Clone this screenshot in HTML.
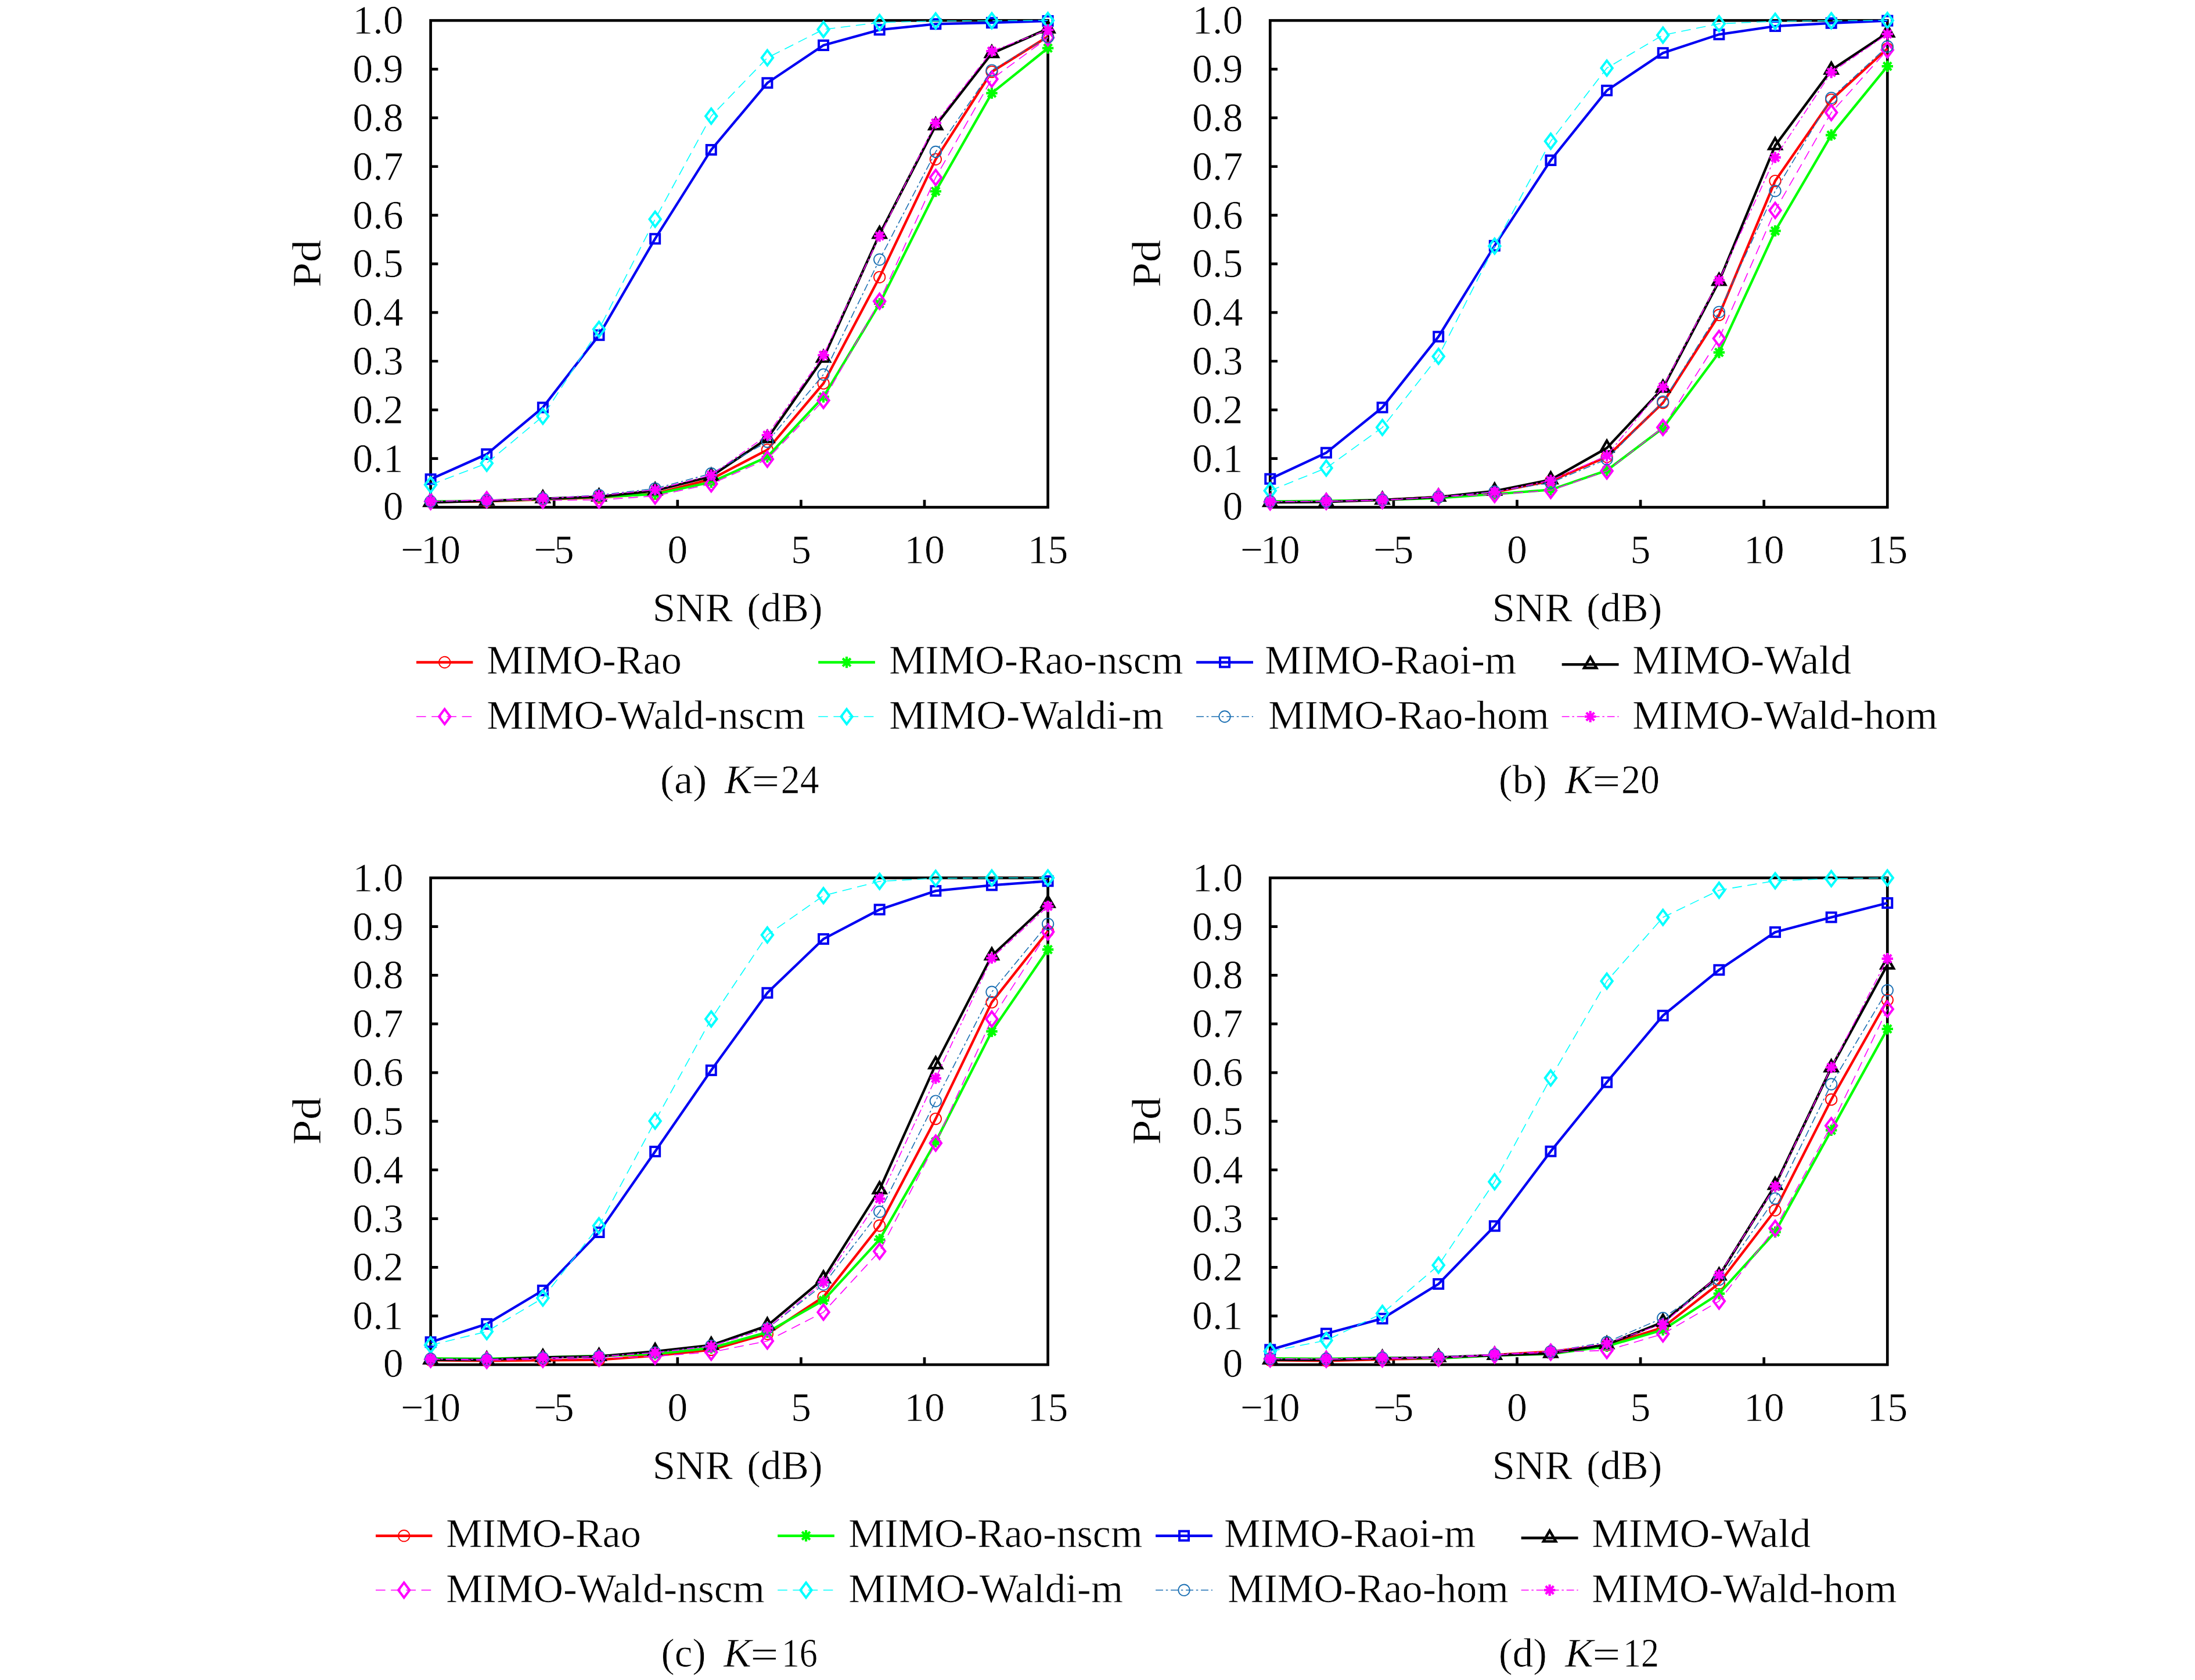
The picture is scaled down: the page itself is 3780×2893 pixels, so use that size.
<!DOCTYPE html>
<html><head><meta charset="utf-8"><title>Pd vs SNR</title>
<style>html,body{margin:0;padding:0;background:#fff}svg{display:block}text{font-family:"Liberation Serif",serif;fill:#000;stroke:#fff;stroke-width:0.7px}</style>
</head><body>
<svg width="3780" height="2893" viewBox="0 0 3780 2893" font-family="'Liberation Serif', serif" font-size="70">
<rect width="3780" height="2893" fill="#fff"/>
<g id="plot-a">
<rect x="741.6" y="35.25" width="1063" height="838.25" fill="none" stroke="#000" stroke-width="4.7"/>
<path d="M741.6 789.67h12.8M741.6 705.85h12.8M741.6 622.02h12.8M741.6 538.2h12.8M741.6 454.38h12.8M741.6 370.55h12.8M741.6 286.73h12.8M741.6 202.9h12.8M741.6 119.08h12.8M954.2 873.5v-12.8M1166.8 873.5v-12.8M1379.4 873.5v-12.8M1592 873.5v-12.8" stroke="#000" stroke-width="4.7" fill="none"/>
<text x="694.7" y="894.7" text-anchor="end">0</text>
<text x="694.7" y="812.67" text-anchor="end">0.1</text>
<text x="694.7" y="728.85" text-anchor="end">0.2</text>
<text x="694.7" y="645.02" text-anchor="end">0.3</text>
<text x="694.7" y="561.2" text-anchor="end">0.4</text>
<text x="694.7" y="477.38" text-anchor="end">0.5</text>
<text x="694.7" y="393.55" text-anchor="end">0.6</text>
<text x="694.7" y="309.73" text-anchor="end">0.7</text>
<text x="694.7" y="225.9" text-anchor="end">0.8</text>
<text x="694.7" y="142.08" text-anchor="end">0.9</text>
<text x="694.7" y="58.25" text-anchor="end">1.0</text>
<text x="690 724.75 758.15" y="970">−10</text>
<text x="919.2 953.8" y="970">−5</text>
<text x="1166.8" y="970" text-anchor="middle">0</text>
<text x="1379.4" y="970" text-anchor="middle">5</text>
<text x="1592" y="970" text-anchor="middle">10</text>
<text x="1804.6" y="970" text-anchor="middle">15</text>
<text x="1123.7" y="1070.2" textLength="138.3" lengthAdjust="spacingAndGlyphs">SNR</text>
<text x="1286.3" y="1070.2" textLength="130.5" lengthAdjust="spacingAndGlyphs">(dB)</text>
<text transform="translate(552.3 453.88) rotate(-90)" text-anchor="middle" textLength="82.5" lengthAdjust="spacingAndGlyphs">Pd</text>
<polyline points="741.6,864.28 838.24,863.44 934.87,860.09 1031.51,856.74 1128.15,850.03 1224.78,825.13 1321.42,774.59 1418.05,660.17 1514.69,477.34 1611.33,274.32 1707.96,123.6 1804.6,62.91" fill="none" stroke="#ff0000" stroke-width="4.3" stroke-linejoin="miter"/>
<circle cx="741.6" cy="864.28" r="9.7" fill="none" stroke="#ff0000" stroke-width="1.9"/><circle cx="838.24" cy="863.44" r="9.7" fill="none" stroke="#ff0000" stroke-width="1.9"/><circle cx="934.87" cy="860.09" r="9.7" fill="none" stroke="#ff0000" stroke-width="1.9"/><circle cx="1031.51" cy="856.74" r="9.7" fill="none" stroke="#ff0000" stroke-width="1.9"/><circle cx="1128.15" cy="850.03" r="9.7" fill="none" stroke="#ff0000" stroke-width="1.9"/><circle cx="1224.78" cy="825.13" r="9.7" fill="none" stroke="#ff0000" stroke-width="1.9"/><circle cx="1321.42" cy="774.59" r="9.7" fill="none" stroke="#ff0000" stroke-width="1.9"/><circle cx="1418.05" cy="660.17" r="9.7" fill="none" stroke="#ff0000" stroke-width="1.9"/><circle cx="1514.69" cy="477.34" r="9.7" fill="none" stroke="#ff0000" stroke-width="1.9"/><circle cx="1611.33" cy="274.32" r="9.7" fill="none" stroke="#ff0000" stroke-width="1.9"/><circle cx="1707.96" cy="123.6" r="9.7" fill="none" stroke="#ff0000" stroke-width="1.9"/><circle cx="1804.6" cy="62.91" r="9.7" fill="none" stroke="#ff0000" stroke-width="1.9"/>
<polyline points="741.6,863.44 838.24,862.6 934.87,859.25 1031.51,855.9 1128.15,850.87 1224.78,830.25 1321.42,786.74 1418.05,683.47 1514.69,522.86 1611.33,329.48 1707.96,160.32 1804.6,82.78" fill="none" stroke="#00ff00" stroke-width="4.3" stroke-linejoin="miter"/>
<path d="M731.9 863.44H751.3M741.6 853.74V873.14M734.74 856.58L748.46 870.3M734.74 870.3L748.46 856.58" fill="none" stroke="#00ff00" stroke-width="4.2"/><path d="M828.54 862.6H847.94M838.24 852.9V872.3M831.38 855.74L845.1 869.46M831.38 869.46L845.1 855.74" fill="none" stroke="#00ff00" stroke-width="4.2"/><path d="M925.17 859.25H944.57M934.87 849.55V868.95M928.01 852.39L941.73 866.11M928.01 866.11L941.73 852.39" fill="none" stroke="#00ff00" stroke-width="4.2"/><path d="M1021.81 855.9H1041.21M1031.51 846.2V865.6M1024.65 849.04L1038.37 862.76M1024.65 862.76L1038.37 849.04" fill="none" stroke="#00ff00" stroke-width="4.2"/><path d="M1118.45 850.87H1137.85M1128.15 841.17V860.57M1121.29 844.01L1135 857.73M1121.29 857.73L1135 844.01" fill="none" stroke="#00ff00" stroke-width="4.2"/><path d="M1215.08 830.25H1234.48M1224.78 820.55V839.95M1217.92 823.39L1231.64 837.11M1217.92 837.11L1231.64 823.39" fill="none" stroke="#00ff00" stroke-width="4.2"/><path d="M1311.72 786.74H1331.12M1321.42 777.04V796.44M1314.56 779.88L1328.28 793.6M1314.56 793.6L1328.28 779.88" fill="none" stroke="#00ff00" stroke-width="4.2"/><path d="M1408.35 683.47H1427.75M1418.05 673.77V693.17M1411.2 676.61L1424.91 690.33M1411.2 690.33L1424.91 676.61" fill="none" stroke="#00ff00" stroke-width="4.2"/><path d="M1504.99 522.86H1524.39M1514.69 513.16V532.56M1507.83 516L1521.55 529.72M1507.83 529.72L1521.55 516" fill="none" stroke="#00ff00" stroke-width="4.2"/><path d="M1601.63 329.48H1621.03M1611.33 319.78V339.18M1604.47 322.62L1618.19 336.33M1604.47 336.33L1618.19 322.62" fill="none" stroke="#00ff00" stroke-width="4.2"/><path d="M1698.26 160.32H1717.66M1707.96 150.62V170.02M1701.1 153.46L1714.82 167.18M1701.1 167.18L1714.82 153.46" fill="none" stroke="#00ff00" stroke-width="4.2"/><path d="M1794.9 82.78H1814.3M1804.6 73.08V92.48M1797.74 75.92L1811.46 89.64M1797.74 89.64L1811.46 75.92" fill="none" stroke="#00ff00" stroke-width="4.2"/>
<polyline points="741.6,825.22 838.24,782.05 934.87,701.66 1031.51,577.18 1128.15,411.21 1224.78,257.97 1321.42,142.8 1418.05,78 1514.69,51.34 1611.33,41.29 1707.96,39.19 1804.6,36.09" fill="none" stroke="#0000f2" stroke-width="4.3" stroke-linejoin="miter"/>
<rect x="733.6" y="817.22" width="16" height="16" fill="none" stroke="#0000f2" stroke-width="4"/><rect x="830.24" y="774.05" width="16" height="16" fill="none" stroke="#0000f2" stroke-width="4"/><rect x="926.87" y="693.66" width="16" height="16" fill="none" stroke="#0000f2" stroke-width="4"/><rect x="1023.51" y="569.18" width="16" height="16" fill="none" stroke="#0000f2" stroke-width="4"/><rect x="1120.15" y="403.21" width="16" height="16" fill="none" stroke="#0000f2" stroke-width="4"/><rect x="1216.78" y="249.97" width="16" height="16" fill="none" stroke="#0000f2" stroke-width="4"/><rect x="1313.42" y="134.8" width="16" height="16" fill="none" stroke="#0000f2" stroke-width="4"/><rect x="1410.05" y="70" width="16" height="16" fill="none" stroke="#0000f2" stroke-width="4"/><rect x="1506.69" y="43.34" width="16" height="16" fill="none" stroke="#0000f2" stroke-width="4"/><rect x="1603.33" y="33.29" width="16" height="16" fill="none" stroke="#0000f2" stroke-width="4"/><rect x="1699.96" y="31.19" width="16" height="16" fill="none" stroke="#0000f2" stroke-width="4"/><rect x="1796.6" y="28.09" width="16" height="16" fill="none" stroke="#0000f2" stroke-width="4"/>
<polyline points="741.6,865.12 838.24,862.6 934.87,858.58 1031.51,855.48 1128.15,845 1224.78,820.27 1321.42,755.14 1418.05,616.66 1514.69,403.41 1611.33,216.23 1707.96,92 1804.6,49.5" fill="none" stroke="#000000" stroke-width="4.3" stroke-linejoin="miter"/>
<path d="M741.6 852.52L752.3 871.12L730.9 871.12Z" fill="none" stroke="#000000" stroke-width="4.4" stroke-linejoin="miter"/><path d="M838.24 850L848.94 868.6L827.54 868.6Z" fill="none" stroke="#000000" stroke-width="4.4" stroke-linejoin="miter"/><path d="M934.87 845.98L945.57 864.58L924.17 864.58Z" fill="none" stroke="#000000" stroke-width="4.4" stroke-linejoin="miter"/><path d="M1031.51 842.88L1042.21 861.48L1020.81 861.48Z" fill="none" stroke="#000000" stroke-width="4.4" stroke-linejoin="miter"/><path d="M1128.15 832.4L1138.85 851L1117.45 851Z" fill="none" stroke="#000000" stroke-width="4.4" stroke-linejoin="miter"/><path d="M1224.78 807.67L1235.48 826.27L1214.08 826.27Z" fill="none" stroke="#000000" stroke-width="4.4" stroke-linejoin="miter"/><path d="M1321.42 742.54L1332.12 761.14L1310.72 761.14Z" fill="none" stroke="#000000" stroke-width="4.4" stroke-linejoin="miter"/><path d="M1418.05 604.06L1428.75 622.66L1407.35 622.66Z" fill="none" stroke="#000000" stroke-width="4.4" stroke-linejoin="miter"/><path d="M1514.69 390.81L1525.39 409.41L1503.99 409.41Z" fill="none" stroke="#000000" stroke-width="4.4" stroke-linejoin="miter"/><path d="M1611.33 203.63L1622.03 222.23L1600.63 222.23Z" fill="none" stroke="#000000" stroke-width="4.4" stroke-linejoin="miter"/><path d="M1707.96 79.4L1718.66 98L1697.26 98Z" fill="none" stroke="#000000" stroke-width="4.4" stroke-linejoin="miter"/><path d="M1804.6 36.9L1815.3 55.5L1793.9 55.5Z" fill="none" stroke="#000000" stroke-width="4.4" stroke-linejoin="miter"/>
<polyline points="741.6,863.44 838.24,860.59 934.87,861.26 1031.51,860.93 1128.15,854.14 1224.78,833.26 1321.42,790.76 1418.05,689.5 1514.69,518.84 1611.33,305.67 1707.96,136.18 1804.6,65.01" fill="none" stroke="#ff00ff" stroke-width="1.6" stroke-dasharray="16.6 9.6" stroke-linejoin="miter"/>
<path d="M741.6 850.54L751.3 863.44L741.6 876.34L731.9 863.44Z" fill="none" stroke="#ff00ff" stroke-width="4" stroke-linejoin="miter"/><path d="M838.24 847.69L847.94 860.59L838.24 873.49L828.54 860.59Z" fill="none" stroke="#ff00ff" stroke-width="4" stroke-linejoin="miter"/><path d="M934.87 848.36L944.57 861.26L934.87 874.16L925.17 861.26Z" fill="none" stroke="#ff00ff" stroke-width="4" stroke-linejoin="miter"/><path d="M1031.51 848.03L1041.21 860.93L1031.51 873.83L1021.81 860.93Z" fill="none" stroke="#ff00ff" stroke-width="4" stroke-linejoin="miter"/><path d="M1128.15 841.24L1137.85 854.14L1128.15 867.04L1118.45 854.14Z" fill="none" stroke="#ff00ff" stroke-width="4" stroke-linejoin="miter"/><path d="M1224.78 820.36L1234.48 833.26L1224.78 846.16L1215.08 833.26Z" fill="none" stroke="#ff00ff" stroke-width="4" stroke-linejoin="miter"/><path d="M1321.42 777.86L1331.12 790.76L1321.42 803.66L1311.72 790.76Z" fill="none" stroke="#ff00ff" stroke-width="4" stroke-linejoin="miter"/><path d="M1418.05 676.6L1427.75 689.5L1418.05 702.4L1408.35 689.5Z" fill="none" stroke="#ff00ff" stroke-width="4" stroke-linejoin="miter"/><path d="M1514.69 505.94L1524.39 518.84L1514.69 531.74L1504.99 518.84Z" fill="none" stroke="#ff00ff" stroke-width="4" stroke-linejoin="miter"/><path d="M1611.33 292.77L1621.03 305.67L1611.33 318.57L1601.63 305.67Z" fill="none" stroke="#ff00ff" stroke-width="4" stroke-linejoin="miter"/><path d="M1707.96 123.28L1717.66 136.18L1707.96 149.08L1698.26 136.18Z" fill="none" stroke="#ff00ff" stroke-width="4" stroke-linejoin="miter"/><path d="M1804.6 52.11L1814.3 65.01L1804.6 77.91L1794.9 65.01Z" fill="none" stroke="#ff00ff" stroke-width="4" stroke-linejoin="miter"/>
<polyline points="741.6,834.86 838.24,797.81 934.87,716.83 1031.51,567.12 1128.15,377.42 1224.78,199.97 1321.42,99.54 1418.05,50.67 1514.69,38.77 1611.33,36.09 1707.96,35.67 1804.6,35.25" fill="none" stroke="#00ffff" stroke-width="1.6" stroke-dasharray="16.6 9.6" stroke-linejoin="miter"/>
<path d="M741.6 821.96L751.3 834.86L741.6 847.76L731.9 834.86Z" fill="none" stroke="#00ffff" stroke-width="4" stroke-linejoin="miter"/><path d="M838.24 784.91L847.94 797.81L838.24 810.71L828.54 797.81Z" fill="none" stroke="#00ffff" stroke-width="4" stroke-linejoin="miter"/><path d="M934.87 703.93L944.57 716.83L934.87 729.73L925.17 716.83Z" fill="none" stroke="#00ffff" stroke-width="4" stroke-linejoin="miter"/><path d="M1031.51 554.22L1041.21 567.12L1031.51 580.02L1021.81 567.12Z" fill="none" stroke="#00ffff" stroke-width="4" stroke-linejoin="miter"/><path d="M1128.15 364.52L1137.85 377.42L1128.15 390.32L1118.45 377.42Z" fill="none" stroke="#00ffff" stroke-width="4" stroke-linejoin="miter"/><path d="M1224.78 187.07L1234.48 199.97L1224.78 212.87L1215.08 199.97Z" fill="none" stroke="#00ffff" stroke-width="4" stroke-linejoin="miter"/><path d="M1321.42 86.64L1331.12 99.54L1321.42 112.44L1311.72 99.54Z" fill="none" stroke="#00ffff" stroke-width="4" stroke-linejoin="miter"/><path d="M1418.05 37.77L1427.75 50.67L1418.05 63.57L1408.35 50.67Z" fill="none" stroke="#00ffff" stroke-width="4" stroke-linejoin="miter"/><path d="M1514.69 25.87L1524.39 38.77L1514.69 51.67L1504.99 38.77Z" fill="none" stroke="#00ffff" stroke-width="4" stroke-linejoin="miter"/><path d="M1611.33 23.19L1621.03 36.09L1611.33 48.99L1601.63 36.09Z" fill="none" stroke="#00ffff" stroke-width="4" stroke-linejoin="miter"/><path d="M1707.96 22.77L1717.66 35.67L1707.96 48.57L1698.26 35.67Z" fill="none" stroke="#00ffff" stroke-width="4" stroke-linejoin="miter"/><path d="M1804.6 22.35L1814.3 35.25L1804.6 48.15L1794.9 35.25Z" fill="none" stroke="#00ffff" stroke-width="4" stroke-linejoin="miter"/>
<polyline points="741.6,863.44 838.24,861.76 934.87,858.41 1031.51,852.54 1128.15,841.31 1224.78,815.41 1321.42,760.76 1418.05,644.99 1514.69,447 1611.33,261.41 1707.96,121.09 1804.6,63.92" fill="none" stroke="#1a6fb3" stroke-width="1.6" stroke-dasharray="12.9 4.8 3.5 4.8" stroke-linejoin="miter"/>
<circle cx="741.6" cy="863.44" r="9.7" fill="none" stroke="#1a6fb3" stroke-width="1.9"/><circle cx="838.24" cy="861.76" r="9.7" fill="none" stroke="#1a6fb3" stroke-width="1.9"/><circle cx="934.87" cy="858.41" r="9.7" fill="none" stroke="#1a6fb3" stroke-width="1.9"/><circle cx="1031.51" cy="852.54" r="9.7" fill="none" stroke="#1a6fb3" stroke-width="1.9"/><circle cx="1128.15" cy="841.31" r="9.7" fill="none" stroke="#1a6fb3" stroke-width="1.9"/><circle cx="1224.78" cy="815.41" r="9.7" fill="none" stroke="#1a6fb3" stroke-width="1.9"/><circle cx="1321.42" cy="760.76" r="9.7" fill="none" stroke="#1a6fb3" stroke-width="1.9"/><circle cx="1418.05" cy="644.99" r="9.7" fill="none" stroke="#1a6fb3" stroke-width="1.9"/><circle cx="1514.69" cy="447" r="9.7" fill="none" stroke="#1a6fb3" stroke-width="1.9"/><circle cx="1611.33" cy="261.41" r="9.7" fill="none" stroke="#1a6fb3" stroke-width="1.9"/><circle cx="1707.96" cy="121.09" r="9.7" fill="none" stroke="#1a6fb3" stroke-width="1.9"/><circle cx="1804.6" cy="63.92" r="9.7" fill="none" stroke="#1a6fb3" stroke-width="1.9"/>
<polyline points="741.6,863.02 838.24,861.6 934.87,858.5 1031.51,853.47 1128.15,843.41 1224.78,818.09 1321.42,749.27 1418.05,611.63 1514.69,406.51 1611.33,211.87 1707.96,88.06 1804.6,51.34" fill="none" stroke="#ff00ff" stroke-width="1.6" stroke-dasharray="12.9 4.8 3.5 4.8" stroke-linejoin="miter"/>
<path d="M731.9 863.02H751.3M741.6 853.32V872.72M734.74 856.16L748.46 869.88M734.74 869.88L748.46 856.16" fill="none" stroke="#ff00ff" stroke-width="4.2"/><path d="M828.54 861.6H847.94M838.24 851.9V871.3M831.38 854.74L845.1 868.46M831.38 868.46L845.1 854.74" fill="none" stroke="#ff00ff" stroke-width="4.2"/><path d="M925.17 858.5H944.57M934.87 848.8V868.2M928.01 851.64L941.73 865.35M928.01 865.35L941.73 851.64" fill="none" stroke="#ff00ff" stroke-width="4.2"/><path d="M1021.81 853.47H1041.21M1031.51 843.77V863.17M1024.65 846.61L1038.37 860.32M1024.65 860.32L1038.37 846.61" fill="none" stroke="#ff00ff" stroke-width="4.2"/><path d="M1118.45 843.41H1137.85M1128.15 833.71V853.11M1121.29 836.55L1135 850.27M1121.29 850.27L1135 836.55" fill="none" stroke="#ff00ff" stroke-width="4.2"/><path d="M1215.08 818.09H1234.48M1224.78 808.39V827.79M1217.92 811.23L1231.64 824.95M1217.92 824.95L1231.64 811.23" fill="none" stroke="#ff00ff" stroke-width="4.2"/><path d="M1311.72 749.27H1331.12M1321.42 739.57V758.97M1314.56 742.41L1328.28 756.13M1314.56 756.13L1328.28 742.41" fill="none" stroke="#ff00ff" stroke-width="4.2"/><path d="M1408.35 611.63H1427.75M1418.05 601.93V621.33M1411.2 604.77L1424.91 618.49M1411.2 618.49L1424.91 604.77" fill="none" stroke="#ff00ff" stroke-width="4.2"/><path d="M1504.99 406.51H1524.39M1514.69 396.81V416.21M1507.83 399.65L1521.55 413.37M1507.83 413.37L1521.55 399.65" fill="none" stroke="#ff00ff" stroke-width="4.2"/><path d="M1601.63 211.87H1621.03M1611.33 202.17V221.57M1604.47 205.01L1618.19 218.73M1604.47 218.73L1618.19 205.01" fill="none" stroke="#ff00ff" stroke-width="4.2"/><path d="M1698.26 88.06H1717.66M1707.96 78.36V97.76M1701.1 81.2L1714.82 94.92M1701.1 94.92L1714.82 81.2" fill="none" stroke="#ff00ff" stroke-width="4.2"/><path d="M1794.9 51.34H1814.3M1804.6 41.64V61.04M1797.74 44.49L1811.46 58.2M1797.74 58.2L1811.46 44.49" fill="none" stroke="#ff00ff" stroke-width="4.2"/>
</g>
<g id="plot-b">
<rect x="2187.3" y="35.25" width="1063" height="838.25" fill="none" stroke="#000" stroke-width="4.7"/>
<path d="M2187.3 789.67h12.8M2187.3 705.85h12.8M2187.3 622.02h12.8M2187.3 538.2h12.8M2187.3 454.38h12.8M2187.3 370.55h12.8M2187.3 286.73h12.8M2187.3 202.9h12.8M2187.3 119.08h12.8M2399.9 873.5v-12.8M2612.5 873.5v-12.8M2825.1 873.5v-12.8M3037.7 873.5v-12.8" stroke="#000" stroke-width="4.7" fill="none"/>
<text x="2140.4" y="894.7" text-anchor="end">0</text>
<text x="2140.4" y="812.67" text-anchor="end">0.1</text>
<text x="2140.4" y="728.85" text-anchor="end">0.2</text>
<text x="2140.4" y="645.02" text-anchor="end">0.3</text>
<text x="2140.4" y="561.2" text-anchor="end">0.4</text>
<text x="2140.4" y="477.38" text-anchor="end">0.5</text>
<text x="2140.4" y="393.55" text-anchor="end">0.6</text>
<text x="2140.4" y="309.73" text-anchor="end">0.7</text>
<text x="2140.4" y="225.9" text-anchor="end">0.8</text>
<text x="2140.4" y="142.08" text-anchor="end">0.9</text>
<text x="2140.4" y="58.25" text-anchor="end">1.0</text>
<text x="2135.7 2170.45 2203.85" y="970">−10</text>
<text x="2364.9 2399.5" y="970">−5</text>
<text x="2612.5" y="970" text-anchor="middle">0</text>
<text x="2825.1" y="970" text-anchor="middle">5</text>
<text x="3037.7" y="970" text-anchor="middle">10</text>
<text x="3250.3" y="970" text-anchor="middle">15</text>
<text x="2569.4" y="1070.2" textLength="138.3" lengthAdjust="spacingAndGlyphs">SNR</text>
<text x="2732" y="1070.2" textLength="130.5" lengthAdjust="spacingAndGlyphs">(dB)</text>
<text transform="translate(1998 453.88) rotate(-90)" text-anchor="middle" textLength="82.5" lengthAdjust="spacingAndGlyphs">Pd</text>
<polyline points="2187.3,864.28 2283.94,863.44 2380.57,860.93 2477.21,855.9 2573.85,847.51 2670.48,828.23 2767.12,786.74 2863.75,693.61 2960.39,542.39 3057.03,311.62 3153.66,171.8 3250.3,83.78" fill="none" stroke="#ff0000" stroke-width="4.3" stroke-linejoin="miter"/>
<circle cx="2187.3" cy="864.28" r="9.7" fill="none" stroke="#ff0000" stroke-width="1.9"/><circle cx="2283.94" cy="863.44" r="9.7" fill="none" stroke="#ff0000" stroke-width="1.9"/><circle cx="2380.57" cy="860.93" r="9.7" fill="none" stroke="#ff0000" stroke-width="1.9"/><circle cx="2477.21" cy="855.9" r="9.7" fill="none" stroke="#ff0000" stroke-width="1.9"/><circle cx="2573.85" cy="847.51" r="9.7" fill="none" stroke="#ff0000" stroke-width="1.9"/><circle cx="2670.48" cy="828.23" r="9.7" fill="none" stroke="#ff0000" stroke-width="1.9"/><circle cx="2767.12" cy="786.74" r="9.7" fill="none" stroke="#ff0000" stroke-width="1.9"/><circle cx="2863.75" cy="693.61" r="9.7" fill="none" stroke="#ff0000" stroke-width="1.9"/><circle cx="2960.39" cy="542.39" r="9.7" fill="none" stroke="#ff0000" stroke-width="1.9"/><circle cx="3057.03" cy="311.62" r="9.7" fill="none" stroke="#ff0000" stroke-width="1.9"/><circle cx="3153.66" cy="171.8" r="9.7" fill="none" stroke="#ff0000" stroke-width="1.9"/><circle cx="3250.3" cy="83.78" r="9.7" fill="none" stroke="#ff0000" stroke-width="1.9"/>
<polyline points="2187.3,863.44 2283.94,862.6 2380.57,860.93 2477.21,857.57 2573.85,850.87 2670.48,843.41 2767.12,809.96 2863.75,737.12 2960.39,606.94 3057.03,397.63 3153.66,232.57 3250.3,114.21" fill="none" stroke="#00ff00" stroke-width="4.3" stroke-linejoin="miter"/>
<path d="M2177.6 863.44H2197M2187.3 853.74V873.14M2180.44 856.58L2194.16 870.3M2180.44 870.3L2194.16 856.58" fill="none" stroke="#00ff00" stroke-width="4.2"/><path d="M2274.24 862.6H2293.64M2283.94 852.9V872.3M2277.08 855.74L2290.8 869.46M2277.08 869.46L2290.8 855.74" fill="none" stroke="#00ff00" stroke-width="4.2"/><path d="M2370.87 860.93H2390.27M2380.57 851.23V870.63M2373.71 854.07L2387.43 867.79M2373.71 867.79L2387.43 854.07" fill="none" stroke="#00ff00" stroke-width="4.2"/><path d="M2467.51 857.57H2486.91M2477.21 847.87V867.27M2470.35 850.71L2484.07 864.43M2470.35 864.43L2484.07 850.71" fill="none" stroke="#00ff00" stroke-width="4.2"/><path d="M2564.15 850.87H2583.55M2573.85 841.17V860.57M2566.99 844.01L2580.7 857.73M2566.99 857.73L2580.7 844.01" fill="none" stroke="#00ff00" stroke-width="4.2"/><path d="M2660.78 843.41H2680.18M2670.48 833.71V853.11M2663.62 836.55L2677.34 850.27M2663.62 850.27L2677.34 836.55" fill="none" stroke="#00ff00" stroke-width="4.2"/><path d="M2757.42 809.96H2776.82M2767.12 800.26V819.66M2760.26 803.1L2773.98 816.82M2760.26 816.82L2773.98 803.1" fill="none" stroke="#00ff00" stroke-width="4.2"/><path d="M2854.05 737.12H2873.45M2863.75 727.42V746.82M2856.9 730.26L2870.61 743.98M2856.9 743.98L2870.61 730.26" fill="none" stroke="#00ff00" stroke-width="4.2"/><path d="M2950.69 606.94H2970.09M2960.39 597.24V616.64M2953.53 600.08L2967.25 613.8M2953.53 613.8L2967.25 600.08" fill="none" stroke="#00ff00" stroke-width="4.2"/><path d="M3047.33 397.63H3066.73M3057.03 387.93V407.33M3050.17 390.77L3063.89 404.48M3050.17 404.48L3063.89 390.77" fill="none" stroke="#00ff00" stroke-width="4.2"/><path d="M3143.96 232.57H3163.36M3153.66 222.87V242.27M3146.8 225.72L3160.52 239.43M3146.8 239.43L3160.52 225.72" fill="none" stroke="#00ff00" stroke-width="4.2"/><path d="M3240.6 114.21H3260M3250.3 104.51V123.91M3243.44 107.35L3257.16 121.07M3243.44 121.07L3257.16 107.35" fill="none" stroke="#00ff00" stroke-width="4.2"/>
<polyline points="2187.3,824.71 2283.94,779.62 2380.57,701.66 2477.21,579.69 2573.85,423.19 2670.48,276 2767.12,155.79 2863.75,91.16 2960.39,59.31 3057.03,45.06 3153.66,39.78 3250.3,35.67" fill="none" stroke="#0000f2" stroke-width="4.3" stroke-linejoin="miter"/>
<rect x="2179.3" y="816.71" width="16" height="16" fill="none" stroke="#0000f2" stroke-width="4"/><rect x="2275.94" y="771.62" width="16" height="16" fill="none" stroke="#0000f2" stroke-width="4"/><rect x="2372.57" y="693.66" width="16" height="16" fill="none" stroke="#0000f2" stroke-width="4"/><rect x="2469.21" y="571.69" width="16" height="16" fill="none" stroke="#0000f2" stroke-width="4"/><rect x="2565.85" y="415.19" width="16" height="16" fill="none" stroke="#0000f2" stroke-width="4"/><rect x="2662.48" y="268" width="16" height="16" fill="none" stroke="#0000f2" stroke-width="4"/><rect x="2759.12" y="147.79" width="16" height="16" fill="none" stroke="#0000f2" stroke-width="4"/><rect x="2855.75" y="83.16" width="16" height="16" fill="none" stroke="#0000f2" stroke-width="4"/><rect x="2952.39" y="51.31" width="16" height="16" fill="none" stroke="#0000f2" stroke-width="4"/><rect x="3049.03" y="37.06" width="16" height="16" fill="none" stroke="#0000f2" stroke-width="4"/><rect x="3145.66" y="31.78" width="16" height="16" fill="none" stroke="#0000f2" stroke-width="4"/><rect x="3242.3" y="27.67" width="16" height="16" fill="none" stroke="#0000f2" stroke-width="4"/>
<polyline points="2187.3,865.12 2283.94,864.28 2380.57,860.93 2477.21,855.9 2573.85,845.59 2670.48,826.14 2767.12,771.48 2863.75,668.3 2960.39,484.3 3057.03,250.6 3153.66,120.67 3250.3,56.54" fill="none" stroke="#000000" stroke-width="4.3" stroke-linejoin="miter"/>
<path d="M2187.3 852.52L2198 871.12L2176.6 871.12Z" fill="none" stroke="#000000" stroke-width="4.4" stroke-linejoin="miter"/><path d="M2283.94 851.68L2294.64 870.28L2273.24 870.28Z" fill="none" stroke="#000000" stroke-width="4.4" stroke-linejoin="miter"/><path d="M2380.57 848.33L2391.27 866.93L2369.87 866.93Z" fill="none" stroke="#000000" stroke-width="4.4" stroke-linejoin="miter"/><path d="M2477.21 843.3L2487.91 861.9L2466.51 861.9Z" fill="none" stroke="#000000" stroke-width="4.4" stroke-linejoin="miter"/><path d="M2573.85 832.99L2584.55 851.59L2563.15 851.59Z" fill="none" stroke="#000000" stroke-width="4.4" stroke-linejoin="miter"/><path d="M2670.48 813.54L2681.18 832.14L2659.78 832.14Z" fill="none" stroke="#000000" stroke-width="4.4" stroke-linejoin="miter"/><path d="M2767.12 758.88L2777.82 777.48L2756.42 777.48Z" fill="none" stroke="#000000" stroke-width="4.4" stroke-linejoin="miter"/><path d="M2863.75 655.7L2874.45 674.3L2853.05 674.3Z" fill="none" stroke="#000000" stroke-width="4.4" stroke-linejoin="miter"/><path d="M2960.39 471.7L2971.09 490.3L2949.69 490.3Z" fill="none" stroke="#000000" stroke-width="4.4" stroke-linejoin="miter"/><path d="M3057.03 238L3067.73 256.6L3046.33 256.6Z" fill="none" stroke="#000000" stroke-width="4.4" stroke-linejoin="miter"/><path d="M3153.66 108.07L3164.36 126.67L3142.96 126.67Z" fill="none" stroke="#000000" stroke-width="4.4" stroke-linejoin="miter"/><path d="M3250.3 43.94L3261 62.54L3239.6 62.54Z" fill="none" stroke="#000000" stroke-width="4.4" stroke-linejoin="miter"/>
<polyline points="2187.3,864.28 2283.94,863.44 2380.57,861.76 2477.21,855.56 2573.85,851.45 2670.48,844.41 2767.12,810.97 2863.75,736.11 2960.39,582.79 3057.03,362.25 3153.66,193.85 3250.3,85.88" fill="none" stroke="#ff00ff" stroke-width="1.6" stroke-dasharray="16.6 9.6" stroke-linejoin="miter"/>
<path d="M2187.3 851.38L2197 864.28L2187.3 877.18L2177.6 864.28Z" fill="none" stroke="#ff00ff" stroke-width="4" stroke-linejoin="miter"/><path d="M2283.94 850.54L2293.64 863.44L2283.94 876.34L2274.24 863.44Z" fill="none" stroke="#ff00ff" stroke-width="4" stroke-linejoin="miter"/><path d="M2380.57 848.86L2390.27 861.76L2380.57 874.66L2370.87 861.76Z" fill="none" stroke="#ff00ff" stroke-width="4" stroke-linejoin="miter"/><path d="M2477.21 842.66L2486.91 855.56L2477.21 868.46L2467.51 855.56Z" fill="none" stroke="#ff00ff" stroke-width="4" stroke-linejoin="miter"/><path d="M2573.85 838.55L2583.55 851.45L2573.85 864.35L2564.15 851.45Z" fill="none" stroke="#ff00ff" stroke-width="4" stroke-linejoin="miter"/><path d="M2670.48 831.51L2680.18 844.41L2670.48 857.31L2660.78 844.41Z" fill="none" stroke="#ff00ff" stroke-width="4" stroke-linejoin="miter"/><path d="M2767.12 798.07L2776.82 810.97L2767.12 823.87L2757.42 810.97Z" fill="none" stroke="#ff00ff" stroke-width="4" stroke-linejoin="miter"/><path d="M2863.75 723.21L2873.45 736.11L2863.75 749.01L2854.05 736.11Z" fill="none" stroke="#ff00ff" stroke-width="4" stroke-linejoin="miter"/><path d="M2960.39 569.89L2970.09 582.79L2960.39 595.69L2950.69 582.79Z" fill="none" stroke="#ff00ff" stroke-width="4" stroke-linejoin="miter"/><path d="M3057.03 349.35L3066.73 362.25L3057.03 375.15L3047.33 362.25Z" fill="none" stroke="#ff00ff" stroke-width="4" stroke-linejoin="miter"/><path d="M3153.66 180.95L3163.36 193.85L3153.66 206.75L3143.96 193.85Z" fill="none" stroke="#ff00ff" stroke-width="4" stroke-linejoin="miter"/><path d="M3250.3 72.98L3260 85.88L3250.3 98.78L3240.6 85.88Z" fill="none" stroke="#ff00ff" stroke-width="4" stroke-linejoin="miter"/>
<polyline points="2187.3,845 2283.94,805.94 2380.57,736.11 2477.21,613.64 2573.85,423.86 2670.48,243.22 2767.12,117.23 2863.75,60.4 2960.39,40.87 3057.03,36.68 3153.66,35.67 3250.3,35.25" fill="none" stroke="#00ffff" stroke-width="1.6" stroke-dasharray="16.6 9.6" stroke-linejoin="miter"/>
<path d="M2187.3 832.1L2197 845L2187.3 857.9L2177.6 845Z" fill="none" stroke="#00ffff" stroke-width="4" stroke-linejoin="miter"/><path d="M2283.94 793.04L2293.64 805.94L2283.94 818.84L2274.24 805.94Z" fill="none" stroke="#00ffff" stroke-width="4" stroke-linejoin="miter"/><path d="M2380.57 723.21L2390.27 736.11L2380.57 749.01L2370.87 736.11Z" fill="none" stroke="#00ffff" stroke-width="4" stroke-linejoin="miter"/><path d="M2477.21 600.74L2486.91 613.64L2477.21 626.54L2467.51 613.64Z" fill="none" stroke="#00ffff" stroke-width="4" stroke-linejoin="miter"/><path d="M2573.85 410.96L2583.55 423.86L2573.85 436.76L2564.15 423.86Z" fill="none" stroke="#00ffff" stroke-width="4" stroke-linejoin="miter"/><path d="M2670.48 230.32L2680.18 243.22L2670.48 256.12L2660.78 243.22Z" fill="none" stroke="#00ffff" stroke-width="4" stroke-linejoin="miter"/><path d="M2767.12 104.33L2776.82 117.23L2767.12 130.13L2757.42 117.23Z" fill="none" stroke="#00ffff" stroke-width="4" stroke-linejoin="miter"/><path d="M2863.75 47.5L2873.45 60.4L2863.75 73.3L2854.05 60.4Z" fill="none" stroke="#00ffff" stroke-width="4" stroke-linejoin="miter"/><path d="M2960.39 27.97L2970.09 40.87L2960.39 53.77L2950.69 40.87Z" fill="none" stroke="#00ffff" stroke-width="4" stroke-linejoin="miter"/><path d="M3057.03 23.78L3066.73 36.68L3057.03 49.58L3047.33 36.68Z" fill="none" stroke="#00ffff" stroke-width="4" stroke-linejoin="miter"/><path d="M3153.66 22.77L3163.36 35.67L3153.66 48.57L3143.96 35.67Z" fill="none" stroke="#00ffff" stroke-width="4" stroke-linejoin="miter"/><path d="M3250.3 22.35L3260 35.25L3250.3 48.15L3240.6 35.25Z" fill="none" stroke="#00ffff" stroke-width="4" stroke-linejoin="miter"/>
<polyline points="2187.3,863.44 2283.94,863.44 2380.57,860.93 2477.21,855.9 2573.85,846.68 2670.48,831.25 2767.12,790.76 2863.75,691.6 2960.39,537.28 3057.03,328.81 3153.66,168.7 3250.3,80.01" fill="none" stroke="#1a6fb3" stroke-width="1.6" stroke-dasharray="12.9 4.8 3.5 4.8" stroke-linejoin="miter"/>
<circle cx="2187.3" cy="863.44" r="9.7" fill="none" stroke="#1a6fb3" stroke-width="1.9"/><circle cx="2283.94" cy="863.44" r="9.7" fill="none" stroke="#1a6fb3" stroke-width="1.9"/><circle cx="2380.57" cy="860.93" r="9.7" fill="none" stroke="#1a6fb3" stroke-width="1.9"/><circle cx="2477.21" cy="855.9" r="9.7" fill="none" stroke="#1a6fb3" stroke-width="1.9"/><circle cx="2573.85" cy="846.68" r="9.7" fill="none" stroke="#1a6fb3" stroke-width="1.9"/><circle cx="2670.48" cy="831.25" r="9.7" fill="none" stroke="#1a6fb3" stroke-width="1.9"/><circle cx="2767.12" cy="790.76" r="9.7" fill="none" stroke="#1a6fb3" stroke-width="1.9"/><circle cx="2863.75" cy="691.6" r="9.7" fill="none" stroke="#1a6fb3" stroke-width="1.9"/><circle cx="2960.39" cy="537.28" r="9.7" fill="none" stroke="#1a6fb3" stroke-width="1.9"/><circle cx="3057.03" cy="328.81" r="9.7" fill="none" stroke="#1a6fb3" stroke-width="1.9"/><circle cx="3153.66" cy="168.7" r="9.7" fill="none" stroke="#1a6fb3" stroke-width="1.9"/><circle cx="3250.3" cy="80.01" r="9.7" fill="none" stroke="#1a6fb3" stroke-width="1.9"/>
<polyline points="2187.3,863.61 2283.94,863.02 2380.57,861.18 2477.21,855.9 2573.85,847.43 2670.48,827.23 2767.12,784.65 2863.75,666.28 2960.39,482.62 3057.03,271.13 3153.66,124.69 3250.3,58.72" fill="none" stroke="#ff00ff" stroke-width="1.6" stroke-dasharray="12.9 4.8 3.5 4.8" stroke-linejoin="miter"/>
<path d="M2177.6 863.61H2197M2187.3 853.91V873.31M2180.44 856.75L2194.16 870.47M2180.44 870.47L2194.16 856.75" fill="none" stroke="#ff00ff" stroke-width="4.2"/><path d="M2274.24 863.02H2293.64M2283.94 853.32V872.72M2277.08 856.16L2290.8 869.88M2277.08 869.88L2290.8 856.16" fill="none" stroke="#ff00ff" stroke-width="4.2"/><path d="M2370.87 861.18H2390.27M2380.57 851.48V870.88M2373.71 854.32L2387.43 868.04M2373.71 868.04L2387.43 854.32" fill="none" stroke="#ff00ff" stroke-width="4.2"/><path d="M2467.51 855.9H2486.91M2477.21 846.2V865.6M2470.35 849.04L2484.07 862.76M2470.35 862.76L2484.07 849.04" fill="none" stroke="#ff00ff" stroke-width="4.2"/><path d="M2564.15 847.43H2583.55M2573.85 837.73V857.13M2566.99 840.57L2580.7 854.29M2566.99 854.29L2580.7 840.57" fill="none" stroke="#ff00ff" stroke-width="4.2"/><path d="M2660.78 827.23H2680.18M2670.48 817.53V836.93M2663.62 820.37L2677.34 834.09M2663.62 834.09L2677.34 820.37" fill="none" stroke="#ff00ff" stroke-width="4.2"/><path d="M2757.42 784.65H2776.82M2767.12 774.95V794.35M2760.26 777.79L2773.98 791.5M2760.26 791.5L2773.98 777.79" fill="none" stroke="#ff00ff" stroke-width="4.2"/><path d="M2854.05 666.28H2873.45M2863.75 656.58V675.98M2856.9 659.43L2870.61 673.14M2856.9 673.14L2870.61 659.43" fill="none" stroke="#ff00ff" stroke-width="4.2"/><path d="M2950.69 482.62H2970.09M2960.39 472.92V492.32M2953.53 475.77L2967.25 489.48M2953.53 489.48L2967.25 475.77" fill="none" stroke="#ff00ff" stroke-width="4.2"/><path d="M3047.33 271.13H3066.73M3057.03 261.43V280.83M3050.17 264.27L3063.89 277.99M3050.17 277.99L3063.89 264.27" fill="none" stroke="#ff00ff" stroke-width="4.2"/><path d="M3143.96 124.69H3163.36M3153.66 114.99V134.39M3146.8 117.83L3160.52 131.55M3146.8 131.55L3160.52 117.83" fill="none" stroke="#ff00ff" stroke-width="4.2"/><path d="M3240.6 58.72H3260M3250.3 49.02V68.42M3243.44 51.86L3257.16 65.58M3243.44 65.58L3257.16 51.86" fill="none" stroke="#ff00ff" stroke-width="4.2"/>
</g>
<g id="plot-c">
<rect x="741.6" y="1511.75" width="1063" height="838.25" fill="none" stroke="#000" stroke-width="4.7"/>
<path d="M741.6 2266.18h12.8M741.6 2182.35h12.8M741.6 2098.53h12.8M741.6 2014.7h12.8M741.6 1930.88h12.8M741.6 1847.05h12.8M741.6 1763.22h12.8M741.6 1679.4h12.8M741.6 1595.58h12.8M954.2 2350v-12.8M1166.8 2350v-12.8M1379.4 2350v-12.8M1592 2350v-12.8" stroke="#000" stroke-width="4.7" fill="none"/>
<text x="694.7" y="2371.2" text-anchor="end">0</text>
<text x="694.7" y="2289.18" text-anchor="end">0.1</text>
<text x="694.7" y="2205.35" text-anchor="end">0.2</text>
<text x="694.7" y="2121.53" text-anchor="end">0.3</text>
<text x="694.7" y="2037.7" text-anchor="end">0.4</text>
<text x="694.7" y="1953.88" text-anchor="end">0.5</text>
<text x="694.7" y="1870.05" text-anchor="end">0.6</text>
<text x="694.7" y="1786.22" text-anchor="end">0.7</text>
<text x="694.7" y="1702.4" text-anchor="end">0.8</text>
<text x="694.7" y="1618.58" text-anchor="end">0.9</text>
<text x="694.7" y="1534.75" text-anchor="end">1.0</text>
<text x="690 724.75 758.15" y="2446.5">−10</text>
<text x="919.2 953.8" y="2446.5">−5</text>
<text x="1166.8" y="2446.5" text-anchor="middle">0</text>
<text x="1379.4" y="2446.5" text-anchor="middle">5</text>
<text x="1592" y="2446.5" text-anchor="middle">10</text>
<text x="1804.6" y="2446.5" text-anchor="middle">15</text>
<text x="1123.7" y="2546.7" textLength="138.3" lengthAdjust="spacingAndGlyphs">SNR</text>
<text x="1286.3" y="2546.7" textLength="130.5" lengthAdjust="spacingAndGlyphs">(dB)</text>
<text transform="translate(552.3 1930.38) rotate(-90)" text-anchor="middle" textLength="82.5" lengthAdjust="spacingAndGlyphs">Pd</text>
<polyline points="741.6,2342.46 838.24,2343.29 934.87,2342.46 1031.51,2341.62 1128.15,2334.49 1224.78,2324.35 1321.42,2297.02 1418.05,2233.32 1514.69,2110.51 1611.33,1926.6 1707.96,1725.92 1804.6,1603.62" fill="none" stroke="#ff0000" stroke-width="4.3" stroke-linejoin="miter"/>
<circle cx="741.6" cy="2342.46" r="9.7" fill="none" stroke="#ff0000" stroke-width="1.9"/><circle cx="838.24" cy="2343.29" r="9.7" fill="none" stroke="#ff0000" stroke-width="1.9"/><circle cx="934.87" cy="2342.46" r="9.7" fill="none" stroke="#ff0000" stroke-width="1.9"/><circle cx="1031.51" cy="2341.62" r="9.7" fill="none" stroke="#ff0000" stroke-width="1.9"/><circle cx="1128.15" cy="2334.49" r="9.7" fill="none" stroke="#ff0000" stroke-width="1.9"/><circle cx="1224.78" cy="2324.35" r="9.7" fill="none" stroke="#ff0000" stroke-width="1.9"/><circle cx="1321.42" cy="2297.02" r="9.7" fill="none" stroke="#ff0000" stroke-width="1.9"/><circle cx="1418.05" cy="2233.32" r="9.7" fill="none" stroke="#ff0000" stroke-width="1.9"/><circle cx="1514.69" cy="2110.51" r="9.7" fill="none" stroke="#ff0000" stroke-width="1.9"/><circle cx="1611.33" cy="1926.6" r="9.7" fill="none" stroke="#ff0000" stroke-width="1.9"/><circle cx="1707.96" cy="1725.92" r="9.7" fill="none" stroke="#ff0000" stroke-width="1.9"/><circle cx="1804.6" cy="1603.62" r="9.7" fill="none" stroke="#ff0000" stroke-width="1.9"/>
<polyline points="741.6,2339.1 838.24,2339.94 934.87,2337.43 1031.51,2334.91 1128.15,2331.56 1224.78,2321.33 1321.42,2294 1418.05,2239.35 1514.69,2134.57 1611.33,1966.17 1707.96,1776.13 1804.6,1635.06" fill="none" stroke="#00ff00" stroke-width="4.3" stroke-linejoin="miter"/>
<path d="M731.9 2339.1H751.3M741.6 2329.4V2348.8M734.74 2332.24L748.46 2345.96M734.74 2345.96L748.46 2332.24" fill="none" stroke="#00ff00" stroke-width="4.2"/><path d="M828.54 2339.94H847.94M838.24 2330.24V2349.64M831.38 2333.08L845.1 2346.8M831.38 2346.8L845.1 2333.08" fill="none" stroke="#00ff00" stroke-width="4.2"/><path d="M925.17 2337.43H944.57M934.87 2327.73V2347.13M928.01 2330.57L941.73 2344.29M928.01 2344.29L941.73 2330.57" fill="none" stroke="#00ff00" stroke-width="4.2"/><path d="M1021.81 2334.91H1041.21M1031.51 2325.21V2344.61M1024.65 2328.05L1038.37 2341.77M1024.65 2341.77L1038.37 2328.05" fill="none" stroke="#00ff00" stroke-width="4.2"/><path d="M1118.45 2331.56H1137.85M1128.15 2321.86V2341.26M1121.29 2324.7L1135 2338.42M1121.29 2338.42L1135 2324.7" fill="none" stroke="#00ff00" stroke-width="4.2"/><path d="M1215.08 2321.33H1234.48M1224.78 2311.63V2331.03M1217.92 2314.47L1231.64 2328.19M1217.92 2328.19L1231.64 2314.47" fill="none" stroke="#00ff00" stroke-width="4.2"/><path d="M1311.72 2294H1331.12M1321.42 2284.3V2303.7M1314.56 2287.15L1328.28 2300.86M1314.56 2300.86L1328.28 2287.15" fill="none" stroke="#00ff00" stroke-width="4.2"/><path d="M1408.35 2239.35H1427.75M1418.05 2229.65V2249.05M1411.2 2232.49L1424.91 2246.21M1411.2 2246.21L1424.91 2232.49" fill="none" stroke="#00ff00" stroke-width="4.2"/><path d="M1504.99 2134.57H1524.39M1514.69 2124.87V2144.27M1507.83 2127.71L1521.55 2141.43M1507.83 2141.43L1521.55 2127.71" fill="none" stroke="#00ff00" stroke-width="4.2"/><path d="M1601.63 1966.17H1621.03M1611.33 1956.47V1975.87M1604.47 1959.31L1618.19 1973.02M1604.47 1973.02L1618.19 1959.31" fill="none" stroke="#00ff00" stroke-width="4.2"/><path d="M1698.26 1776.13H1717.66M1707.96 1766.43V1785.83M1701.1 1769.28L1714.82 1782.99M1701.1 1782.99L1714.82 1769.28" fill="none" stroke="#00ff00" stroke-width="4.2"/><path d="M1794.9 1635.06H1814.3M1804.6 1625.36V1644.76M1797.74 1628.2L1811.46 1641.92M1797.74 1641.92L1811.46 1628.2" fill="none" stroke="#00ff00" stroke-width="4.2"/>
<polyline points="741.6,2311.19 838.24,2279.84 934.87,2222.17 1031.51,2122 1128.15,1982.93 1224.78,1843.11 1321.42,1709.74 1418.05,1616.95 1514.69,1566.32 1611.33,1534.13 1707.96,1524.41 1804.6,1517.28" fill="none" stroke="#0000f2" stroke-width="4.3" stroke-linejoin="miter"/>
<rect x="733.6" y="2303.19" width="16" height="16" fill="none" stroke="#0000f2" stroke-width="4"/><rect x="830.24" y="2271.84" width="16" height="16" fill="none" stroke="#0000f2" stroke-width="4"/><rect x="926.87" y="2214.17" width="16" height="16" fill="none" stroke="#0000f2" stroke-width="4"/><rect x="1023.51" y="2114" width="16" height="16" fill="none" stroke="#0000f2" stroke-width="4"/><rect x="1120.15" y="1974.93" width="16" height="16" fill="none" stroke="#0000f2" stroke-width="4"/><rect x="1216.78" y="1835.11" width="16" height="16" fill="none" stroke="#0000f2" stroke-width="4"/><rect x="1313.42" y="1701.74" width="16" height="16" fill="none" stroke="#0000f2" stroke-width="4"/><rect x="1410.05" y="1608.95" width="16" height="16" fill="none" stroke="#0000f2" stroke-width="4"/><rect x="1506.69" y="1558.32" width="16" height="16" fill="none" stroke="#0000f2" stroke-width="4"/><rect x="1603.33" y="1526.13" width="16" height="16" fill="none" stroke="#0000f2" stroke-width="4"/><rect x="1699.96" y="1516.41" width="16" height="16" fill="none" stroke="#0000f2" stroke-width="4"/><rect x="1796.6" y="1509.28" width="16" height="16" fill="none" stroke="#0000f2" stroke-width="4"/>
<polyline points="741.6,2341.62 838.24,2341.62 934.87,2337.43 1031.51,2335.75 1128.15,2327.03 1224.78,2316.47 1321.42,2282.86 1418.05,2201.97 1514.69,2048.57 1611.33,1833.22 1707.96,1645.79 1804.6,1555.67" fill="none" stroke="#000000" stroke-width="4.3" stroke-linejoin="miter"/>
<path d="M741.6 2329.02L752.3 2347.62L730.9 2347.62Z" fill="none" stroke="#000000" stroke-width="4.4" stroke-linejoin="miter"/><path d="M838.24 2329.02L848.94 2347.62L827.54 2347.62Z" fill="none" stroke="#000000" stroke-width="4.4" stroke-linejoin="miter"/><path d="M934.87 2324.83L945.57 2343.43L924.17 2343.43Z" fill="none" stroke="#000000" stroke-width="4.4" stroke-linejoin="miter"/><path d="M1031.51 2323.15L1042.21 2341.75L1020.81 2341.75Z" fill="none" stroke="#000000" stroke-width="4.4" stroke-linejoin="miter"/><path d="M1128.15 2314.43L1138.85 2333.03L1117.45 2333.03Z" fill="none" stroke="#000000" stroke-width="4.4" stroke-linejoin="miter"/><path d="M1224.78 2303.87L1235.48 2322.47L1214.08 2322.47Z" fill="none" stroke="#000000" stroke-width="4.4" stroke-linejoin="miter"/><path d="M1321.42 2270.26L1332.12 2288.86L1310.72 2288.86Z" fill="none" stroke="#000000" stroke-width="4.4" stroke-linejoin="miter"/><path d="M1418.05 2189.37L1428.75 2207.97L1407.35 2207.97Z" fill="none" stroke="#000000" stroke-width="4.4" stroke-linejoin="miter"/><path d="M1514.69 2035.97L1525.39 2054.57L1503.99 2054.57Z" fill="none" stroke="#000000" stroke-width="4.4" stroke-linejoin="miter"/><path d="M1611.33 1820.62L1622.03 1839.22L1600.63 1839.22Z" fill="none" stroke="#000000" stroke-width="4.4" stroke-linejoin="miter"/><path d="M1707.96 1633.19L1718.66 1651.79L1697.26 1651.79Z" fill="none" stroke="#000000" stroke-width="4.4" stroke-linejoin="miter"/><path d="M1804.6 1543.07L1815.3 1561.67L1793.9 1561.67Z" fill="none" stroke="#000000" stroke-width="4.4" stroke-linejoin="miter"/>
<polyline points="741.6,2340.78 838.24,2342.46 934.87,2340.78 1031.51,2339.1 1128.15,2335.5 1224.78,2328.46 1321.42,2309.18 1418.05,2259.64 1514.69,2154.86 1611.33,1968.43 1707.96,1754.84 1804.6,1604.71" fill="none" stroke="#ff00ff" stroke-width="1.6" stroke-dasharray="16.6 9.6" stroke-linejoin="miter"/>
<path d="M741.6 2327.88L751.3 2340.78L741.6 2353.68L731.9 2340.78Z" fill="none" stroke="#ff00ff" stroke-width="4" stroke-linejoin="miter"/><path d="M838.24 2329.56L847.94 2342.46L838.24 2355.36L828.54 2342.46Z" fill="none" stroke="#ff00ff" stroke-width="4" stroke-linejoin="miter"/><path d="M934.87 2327.88L944.57 2340.78L934.87 2353.68L925.17 2340.78Z" fill="none" stroke="#ff00ff" stroke-width="4" stroke-linejoin="miter"/><path d="M1031.51 2326.2L1041.21 2339.1L1031.51 2352L1021.81 2339.1Z" fill="none" stroke="#ff00ff" stroke-width="4" stroke-linejoin="miter"/><path d="M1128.15 2322.6L1137.85 2335.5L1128.15 2348.4L1118.45 2335.5Z" fill="none" stroke="#ff00ff" stroke-width="4" stroke-linejoin="miter"/><path d="M1224.78 2315.56L1234.48 2328.46L1224.78 2341.36L1215.08 2328.46Z" fill="none" stroke="#ff00ff" stroke-width="4" stroke-linejoin="miter"/><path d="M1321.42 2296.28L1331.12 2309.18L1321.42 2322.08L1311.72 2309.18Z" fill="none" stroke="#ff00ff" stroke-width="4" stroke-linejoin="miter"/><path d="M1418.05 2246.74L1427.75 2259.64L1418.05 2272.54L1408.35 2259.64Z" fill="none" stroke="#ff00ff" stroke-width="4" stroke-linejoin="miter"/><path d="M1514.69 2141.96L1524.39 2154.86L1514.69 2167.76L1504.99 2154.86Z" fill="none" stroke="#ff00ff" stroke-width="4" stroke-linejoin="miter"/><path d="M1611.33 1955.53L1621.03 1968.43L1611.33 1981.33L1601.63 1968.43Z" fill="none" stroke="#ff00ff" stroke-width="4" stroke-linejoin="miter"/><path d="M1707.96 1741.94L1717.66 1754.84L1707.96 1767.74L1698.26 1754.84Z" fill="none" stroke="#ff00ff" stroke-width="4" stroke-linejoin="miter"/><path d="M1804.6 1591.81L1814.3 1604.71L1804.6 1617.61L1794.9 1604.71Z" fill="none" stroke="#ff00ff" stroke-width="4" stroke-linejoin="miter"/>
<polyline points="741.6,2316.3 838.24,2293 934.87,2235.33 1031.51,2110.85 1128.15,1930.54 1224.78,1754.67 1321.42,1610.08 1418.05,1542.35 1514.69,1517.7 1611.33,1512.5 1707.96,1511.75 1804.6,1511.75" fill="none" stroke="#00ffff" stroke-width="1.6" stroke-dasharray="16.6 9.6" stroke-linejoin="miter"/>
<path d="M741.6 2303.4L751.3 2316.3L741.6 2329.2L731.9 2316.3Z" fill="none" stroke="#00ffff" stroke-width="4" stroke-linejoin="miter"/><path d="M838.24 2280.1L847.94 2293L838.24 2305.9L828.54 2293Z" fill="none" stroke="#00ffff" stroke-width="4" stroke-linejoin="miter"/><path d="M934.87 2222.43L944.57 2235.33L934.87 2248.23L925.17 2235.33Z" fill="none" stroke="#00ffff" stroke-width="4" stroke-linejoin="miter"/><path d="M1031.51 2097.95L1041.21 2110.85L1031.51 2123.75L1021.81 2110.85Z" fill="none" stroke="#00ffff" stroke-width="4" stroke-linejoin="miter"/><path d="M1128.15 1917.64L1137.85 1930.54L1128.15 1943.44L1118.45 1930.54Z" fill="none" stroke="#00ffff" stroke-width="4" stroke-linejoin="miter"/><path d="M1224.78 1741.77L1234.48 1754.67L1224.78 1767.57L1215.08 1754.67Z" fill="none" stroke="#00ffff" stroke-width="4" stroke-linejoin="miter"/><path d="M1321.42 1597.18L1331.12 1610.08L1321.42 1622.98L1311.72 1610.08Z" fill="none" stroke="#00ffff" stroke-width="4" stroke-linejoin="miter"/><path d="M1418.05 1529.45L1427.75 1542.35L1418.05 1555.25L1408.35 1542.35Z" fill="none" stroke="#00ffff" stroke-width="4" stroke-linejoin="miter"/><path d="M1514.69 1504.8L1524.39 1517.7L1514.69 1530.6L1504.99 1517.7Z" fill="none" stroke="#00ffff" stroke-width="4" stroke-linejoin="miter"/><path d="M1611.33 1499.6L1621.03 1512.5L1611.33 1525.4L1601.63 1512.5Z" fill="none" stroke="#00ffff" stroke-width="4" stroke-linejoin="miter"/><path d="M1707.96 1498.85L1717.66 1511.75L1707.96 1524.65L1698.26 1511.75Z" fill="none" stroke="#00ffff" stroke-width="4" stroke-linejoin="miter"/><path d="M1804.6 1498.85L1814.3 1511.75L1804.6 1524.65L1794.9 1511.75Z" fill="none" stroke="#00ffff" stroke-width="4" stroke-linejoin="miter"/>
<polyline points="741.6,2339.94 838.24,2340.78 934.87,2338.26 1031.51,2335.75 1128.15,2329.04 1224.78,2317.31 1321.42,2287.63 1418.05,2212.02 1514.69,2086.71 1611.33,1896.09 1707.96,1708.24 1804.6,1591.05" fill="none" stroke="#1a6fb3" stroke-width="1.6" stroke-dasharray="12.9 4.8 3.5 4.8" stroke-linejoin="miter"/>
<circle cx="741.6" cy="2339.94" r="9.7" fill="none" stroke="#1a6fb3" stroke-width="1.9"/><circle cx="838.24" cy="2340.78" r="9.7" fill="none" stroke="#1a6fb3" stroke-width="1.9"/><circle cx="934.87" cy="2338.26" r="9.7" fill="none" stroke="#1a6fb3" stroke-width="1.9"/><circle cx="1031.51" cy="2335.75" r="9.7" fill="none" stroke="#1a6fb3" stroke-width="1.9"/><circle cx="1128.15" cy="2329.04" r="9.7" fill="none" stroke="#1a6fb3" stroke-width="1.9"/><circle cx="1224.78" cy="2317.31" r="9.7" fill="none" stroke="#1a6fb3" stroke-width="1.9"/><circle cx="1321.42" cy="2287.63" r="9.7" fill="none" stroke="#1a6fb3" stroke-width="1.9"/><circle cx="1418.05" cy="2212.02" r="9.7" fill="none" stroke="#1a6fb3" stroke-width="1.9"/><circle cx="1514.69" cy="2086.71" r="9.7" fill="none" stroke="#1a6fb3" stroke-width="1.9"/><circle cx="1611.33" cy="1896.09" r="9.7" fill="none" stroke="#1a6fb3" stroke-width="1.9"/><circle cx="1707.96" cy="1708.24" r="9.7" fill="none" stroke="#1a6fb3" stroke-width="1.9"/><circle cx="1804.6" cy="1591.05" r="9.7" fill="none" stroke="#1a6fb3" stroke-width="1.9"/>
<polyline points="741.6,2340.19 838.24,2341.2 934.87,2338.52 1031.51,2335.92 1128.15,2329.46 1224.78,2318.31 1321.42,2287.38 1418.05,2208 1514.69,2064.16 1611.33,1856.86 1707.96,1649.81 1804.6,1560.7" fill="none" stroke="#ff00ff" stroke-width="1.6" stroke-dasharray="12.9 4.8 3.5 4.8" stroke-linejoin="miter"/>
<path d="M731.9 2340.19H751.3M741.6 2330.49V2349.89M734.74 2333.33L748.46 2347.05M734.74 2347.05L748.46 2333.33" fill="none" stroke="#ff00ff" stroke-width="4.2"/><path d="M828.54 2341.2H847.94M838.24 2331.5V2350.9M831.38 2334.34L845.1 2348.06M831.38 2348.06L845.1 2334.34" fill="none" stroke="#ff00ff" stroke-width="4.2"/><path d="M925.17 2338.52H944.57M934.87 2328.82V2348.22M928.01 2331.66L941.73 2345.37M928.01 2345.37L941.73 2331.66" fill="none" stroke="#ff00ff" stroke-width="4.2"/><path d="M1021.81 2335.92H1041.21M1031.51 2326.22V2345.62M1024.65 2329.06L1038.37 2342.78M1024.65 2342.78L1038.37 2329.06" fill="none" stroke="#ff00ff" stroke-width="4.2"/><path d="M1118.45 2329.46H1137.85M1128.15 2319.76V2339.16M1121.29 2322.6L1135 2336.32M1121.29 2336.32L1135 2322.6" fill="none" stroke="#ff00ff" stroke-width="4.2"/><path d="M1215.08 2318.31H1234.48M1224.78 2308.61V2328.01M1217.92 2311.46L1231.64 2325.17M1217.92 2325.17L1231.64 2311.46" fill="none" stroke="#ff00ff" stroke-width="4.2"/><path d="M1311.72 2287.38H1331.12M1321.42 2277.68V2297.08M1314.56 2280.52L1328.28 2294.24M1314.56 2294.24L1328.28 2280.52" fill="none" stroke="#ff00ff" stroke-width="4.2"/><path d="M1408.35 2208H1427.75M1418.05 2198.3V2217.7M1411.2 2201.14L1424.91 2214.86M1411.2 2214.86L1424.91 2201.14" fill="none" stroke="#ff00ff" stroke-width="4.2"/><path d="M1504.99 2064.16H1524.39M1514.69 2054.46V2073.86M1507.83 2057.3L1521.55 2071.02M1507.83 2071.02L1521.55 2057.3" fill="none" stroke="#ff00ff" stroke-width="4.2"/><path d="M1601.63 1856.86H1621.03M1611.33 1847.16V1866.56M1604.47 1850L1618.19 1863.72M1604.47 1863.72L1618.19 1850" fill="none" stroke="#ff00ff" stroke-width="4.2"/><path d="M1698.26 1649.81H1717.66M1707.96 1640.11V1659.51M1701.1 1642.95L1714.82 1656.67M1701.1 1656.67L1714.82 1642.95" fill="none" stroke="#ff00ff" stroke-width="4.2"/><path d="M1794.9 1560.7H1814.3M1804.6 1551V1570.4M1797.74 1553.84L1811.46 1567.56M1797.74 1567.56L1811.46 1553.84" fill="none" stroke="#ff00ff" stroke-width="4.2"/>
</g>
<g id="plot-d">
<rect x="2187.3" y="1511.75" width="1063" height="838.25" fill="none" stroke="#000" stroke-width="4.7"/>
<path d="M2187.3 2266.18h12.8M2187.3 2182.35h12.8M2187.3 2098.53h12.8M2187.3 2014.7h12.8M2187.3 1930.88h12.8M2187.3 1847.05h12.8M2187.3 1763.22h12.8M2187.3 1679.4h12.8M2187.3 1595.58h12.8M2399.9 2350v-12.8M2612.5 2350v-12.8M2825.1 2350v-12.8M3037.7 2350v-12.8" stroke="#000" stroke-width="4.7" fill="none"/>
<text x="2140.4" y="2371.2" text-anchor="end">0</text>
<text x="2140.4" y="2289.18" text-anchor="end">0.1</text>
<text x="2140.4" y="2205.35" text-anchor="end">0.2</text>
<text x="2140.4" y="2121.53" text-anchor="end">0.3</text>
<text x="2140.4" y="2037.7" text-anchor="end">0.4</text>
<text x="2140.4" y="1953.88" text-anchor="end">0.5</text>
<text x="2140.4" y="1870.05" text-anchor="end">0.6</text>
<text x="2140.4" y="1786.22" text-anchor="end">0.7</text>
<text x="2140.4" y="1702.4" text-anchor="end">0.8</text>
<text x="2140.4" y="1618.58" text-anchor="end">0.9</text>
<text x="2140.4" y="1534.75" text-anchor="end">1.0</text>
<text x="2135.7 2170.45 2203.85" y="2446.5">−10</text>
<text x="2364.9 2399.5" y="2446.5">−5</text>
<text x="2612.5" y="2446.5" text-anchor="middle">0</text>
<text x="2825.1" y="2446.5" text-anchor="middle">5</text>
<text x="3037.7" y="2446.5" text-anchor="middle">10</text>
<text x="3250.3" y="2446.5" text-anchor="middle">15</text>
<text x="2569.4" y="2546.7" textLength="138.3" lengthAdjust="spacingAndGlyphs">SNR</text>
<text x="2732" y="2546.7" textLength="130.5" lengthAdjust="spacingAndGlyphs">(dB)</text>
<text transform="translate(1998 1930.38) rotate(-90)" text-anchor="middle" textLength="82.5" lengthAdjust="spacingAndGlyphs">Pd</text>
<polyline points="2187.3,2342.46 2283.94,2343.29 2380.57,2340.78 2477.21,2339.1 2573.85,2333.24 2670.48,2327.37 2767.12,2316.47 2863.75,2285.87 2960.39,2210.01 3057.03,2084.02 3153.66,1893.41 3250.3,1722.07" fill="none" stroke="#ff0000" stroke-width="4.3" stroke-linejoin="miter"/>
<circle cx="2187.3" cy="2342.46" r="9.7" fill="none" stroke="#ff0000" stroke-width="1.9"/><circle cx="2283.94" cy="2343.29" r="9.7" fill="none" stroke="#ff0000" stroke-width="1.9"/><circle cx="2380.57" cy="2340.78" r="9.7" fill="none" stroke="#ff0000" stroke-width="1.9"/><circle cx="2477.21" cy="2339.1" r="9.7" fill="none" stroke="#ff0000" stroke-width="1.9"/><circle cx="2573.85" cy="2333.24" r="9.7" fill="none" stroke="#ff0000" stroke-width="1.9"/><circle cx="2670.48" cy="2327.37" r="9.7" fill="none" stroke="#ff0000" stroke-width="1.9"/><circle cx="2767.12" cy="2316.47" r="9.7" fill="none" stroke="#ff0000" stroke-width="1.9"/><circle cx="2863.75" cy="2285.87" r="9.7" fill="none" stroke="#ff0000" stroke-width="1.9"/><circle cx="2960.39" cy="2210.01" r="9.7" fill="none" stroke="#ff0000" stroke-width="1.9"/><circle cx="3057.03" cy="2084.02" r="9.7" fill="none" stroke="#ff0000" stroke-width="1.9"/><circle cx="3153.66" cy="1893.41" r="9.7" fill="none" stroke="#ff0000" stroke-width="1.9"/><circle cx="3250.3" cy="1722.07" r="9.7" fill="none" stroke="#ff0000" stroke-width="1.9"/>
<polyline points="2187.3,2339.1 2283.94,2339.94 2380.57,2338.26 2477.21,2339.1 2573.85,2334.07 2670.48,2331.56 2767.12,2318.31 2863.75,2289.98 2960.39,2227.7 3057.03,2121.58 3153.66,1946.38 3250.3,1771.78" fill="none" stroke="#00ff00" stroke-width="4.3" stroke-linejoin="miter"/>
<path d="M2177.6 2339.1H2197M2187.3 2329.4V2348.8M2180.44 2332.24L2194.16 2345.96M2180.44 2345.96L2194.16 2332.24" fill="none" stroke="#00ff00" stroke-width="4.2"/><path d="M2274.24 2339.94H2293.64M2283.94 2330.24V2349.64M2277.08 2333.08L2290.8 2346.8M2277.08 2346.8L2290.8 2333.08" fill="none" stroke="#00ff00" stroke-width="4.2"/><path d="M2370.87 2338.26H2390.27M2380.57 2328.56V2347.96M2373.71 2331.41L2387.43 2345.12M2373.71 2345.12L2387.43 2331.41" fill="none" stroke="#00ff00" stroke-width="4.2"/><path d="M2467.51 2339.1H2486.91M2477.21 2329.4V2348.8M2470.35 2332.24L2484.07 2345.96M2470.35 2345.96L2484.07 2332.24" fill="none" stroke="#00ff00" stroke-width="4.2"/><path d="M2564.15 2334.07H2583.55M2573.85 2324.37V2343.77M2566.99 2327.21L2580.7 2340.93M2566.99 2340.93L2580.7 2327.21" fill="none" stroke="#00ff00" stroke-width="4.2"/><path d="M2660.78 2331.56H2680.18M2670.48 2321.86V2341.26M2663.62 2324.7L2677.34 2338.42M2663.62 2338.42L2677.34 2324.7" fill="none" stroke="#00ff00" stroke-width="4.2"/><path d="M2757.42 2318.31H2776.82M2767.12 2308.61V2328.01M2760.26 2311.46L2773.98 2325.17M2760.26 2325.17L2773.98 2311.46" fill="none" stroke="#00ff00" stroke-width="4.2"/><path d="M2854.05 2289.98H2873.45M2863.75 2280.28V2299.68M2856.9 2283.12L2870.61 2296.84M2856.9 2296.84L2870.61 2283.12" fill="none" stroke="#00ff00" stroke-width="4.2"/><path d="M2950.69 2227.7H2970.09M2960.39 2218V2237.4M2953.53 2220.84L2967.25 2234.56M2953.53 2234.56L2967.25 2220.84" fill="none" stroke="#00ff00" stroke-width="4.2"/><path d="M3047.33 2121.58H3066.73M3057.03 2111.88V2131.28M3050.17 2114.72L3063.89 2128.44M3050.17 2128.44L3063.89 2114.72" fill="none" stroke="#00ff00" stroke-width="4.2"/><path d="M3143.96 1946.38H3163.36M3153.66 1936.68V1956.08M3146.8 1939.52L3160.52 1953.24M3146.8 1953.24L3160.52 1939.52" fill="none" stroke="#00ff00" stroke-width="4.2"/><path d="M3240.6 1771.78H3260M3250.3 1762.08V1781.48M3243.44 1764.92L3257.16 1778.63M3243.44 1778.63L3257.16 1764.92" fill="none" stroke="#00ff00" stroke-width="4.2"/>
<polyline points="2187.3,2324.35 2283.94,2296.44 2380.57,2270.7 2477.21,2211.02 2573.85,2111.27 2670.48,1982.68 2767.12,1863.73 2863.75,1748.81 2960.39,1670.26 3057.03,1605.13 3153.66,1579.56 3250.3,1555" fill="none" stroke="#0000f2" stroke-width="4.3" stroke-linejoin="miter"/>
<rect x="2179.3" y="2316.35" width="16" height="16" fill="none" stroke="#0000f2" stroke-width="4"/><rect x="2275.94" y="2288.44" width="16" height="16" fill="none" stroke="#0000f2" stroke-width="4"/><rect x="2372.57" y="2262.7" width="16" height="16" fill="none" stroke="#0000f2" stroke-width="4"/><rect x="2469.21" y="2203.02" width="16" height="16" fill="none" stroke="#0000f2" stroke-width="4"/><rect x="2565.85" y="2103.27" width="16" height="16" fill="none" stroke="#0000f2" stroke-width="4"/><rect x="2662.48" y="1974.68" width="16" height="16" fill="none" stroke="#0000f2" stroke-width="4"/><rect x="2759.12" y="1855.73" width="16" height="16" fill="none" stroke="#0000f2" stroke-width="4"/><rect x="2855.75" y="1740.81" width="16" height="16" fill="none" stroke="#0000f2" stroke-width="4"/><rect x="2952.39" y="1662.26" width="16" height="16" fill="none" stroke="#0000f2" stroke-width="4"/><rect x="3049.03" y="1597.13" width="16" height="16" fill="none" stroke="#0000f2" stroke-width="4"/><rect x="3145.66" y="1571.56" width="16" height="16" fill="none" stroke="#0000f2" stroke-width="4"/><rect x="3242.3" y="1547" width="16" height="16" fill="none" stroke="#0000f2" stroke-width="4"/>
<polyline points="2187.3,2341.62 2283.94,2341.62 2380.57,2339.1 2477.21,2337.43 2573.85,2333.74 2670.48,2330.64 2767.12,2315.3 2863.75,2276.82 2960.39,2197.02 3057.03,2041.1 3153.66,1838.58 3250.3,1661.46" fill="none" stroke="#000000" stroke-width="4.3" stroke-linejoin="miter"/>
<path d="M2187.3 2329.02L2198 2347.62L2176.6 2347.62Z" fill="none" stroke="#000000" stroke-width="4.4" stroke-linejoin="miter"/><path d="M2283.94 2329.02L2294.64 2347.62L2273.24 2347.62Z" fill="none" stroke="#000000" stroke-width="4.4" stroke-linejoin="miter"/><path d="M2380.57 2326.5L2391.27 2345.1L2369.87 2345.1Z" fill="none" stroke="#000000" stroke-width="4.4" stroke-linejoin="miter"/><path d="M2477.21 2324.83L2487.91 2343.43L2466.51 2343.43Z" fill="none" stroke="#000000" stroke-width="4.4" stroke-linejoin="miter"/><path d="M2573.85 2321.14L2584.55 2339.74L2563.15 2339.74Z" fill="none" stroke="#000000" stroke-width="4.4" stroke-linejoin="miter"/><path d="M2670.48 2318.04L2681.18 2336.64L2659.78 2336.64Z" fill="none" stroke="#000000" stroke-width="4.4" stroke-linejoin="miter"/><path d="M2767.12 2302.7L2777.82 2321.3L2756.42 2321.3Z" fill="none" stroke="#000000" stroke-width="4.4" stroke-linejoin="miter"/><path d="M2863.75 2264.22L2874.45 2282.82L2853.05 2282.82Z" fill="none" stroke="#000000" stroke-width="4.4" stroke-linejoin="miter"/><path d="M2960.39 2184.42L2971.09 2203.02L2949.69 2203.02Z" fill="none" stroke="#000000" stroke-width="4.4" stroke-linejoin="miter"/><path d="M3057.03 2028.5L3067.73 2047.1L3046.33 2047.1Z" fill="none" stroke="#000000" stroke-width="4.4" stroke-linejoin="miter"/><path d="M3153.66 1825.98L3164.36 1844.58L3142.96 1844.58Z" fill="none" stroke="#000000" stroke-width="4.4" stroke-linejoin="miter"/><path d="M3250.3 1648.86L3261 1667.46L3239.6 1667.46Z" fill="none" stroke="#000000" stroke-width="4.4" stroke-linejoin="miter"/>
<polyline points="2187.3,2339.94 2283.94,2340.78 2380.57,2339.94 2477.21,2339.1 2573.85,2333.49 2670.48,2328.46 2767.12,2325.44 2863.75,2297.02 2960.39,2240.61 3057.03,2115.21 3153.66,1938.42 3250.3,1737.74" fill="none" stroke="#ff00ff" stroke-width="1.6" stroke-dasharray="16.6 9.6" stroke-linejoin="miter"/>
<path d="M2187.3 2327.04L2197 2339.94L2187.3 2352.84L2177.6 2339.94Z" fill="none" stroke="#ff00ff" stroke-width="4" stroke-linejoin="miter"/><path d="M2283.94 2327.88L2293.64 2340.78L2283.94 2353.68L2274.24 2340.78Z" fill="none" stroke="#ff00ff" stroke-width="4" stroke-linejoin="miter"/><path d="M2380.57 2327.04L2390.27 2339.94L2380.57 2352.84L2370.87 2339.94Z" fill="none" stroke="#ff00ff" stroke-width="4" stroke-linejoin="miter"/><path d="M2477.21 2326.2L2486.91 2339.1L2477.21 2352L2467.51 2339.1Z" fill="none" stroke="#ff00ff" stroke-width="4" stroke-linejoin="miter"/><path d="M2573.85 2320.59L2583.55 2333.49L2573.85 2346.39L2564.15 2333.49Z" fill="none" stroke="#ff00ff" stroke-width="4" stroke-linejoin="miter"/><path d="M2670.48 2315.56L2680.18 2328.46L2670.48 2341.36L2660.78 2328.46Z" fill="none" stroke="#ff00ff" stroke-width="4" stroke-linejoin="miter"/><path d="M2767.12 2312.54L2776.82 2325.44L2767.12 2338.34L2757.42 2325.44Z" fill="none" stroke="#ff00ff" stroke-width="4" stroke-linejoin="miter"/><path d="M2863.75 2284.12L2873.45 2297.02L2863.75 2309.92L2854.05 2297.02Z" fill="none" stroke="#ff00ff" stroke-width="4" stroke-linejoin="miter"/><path d="M2960.39 2227.71L2970.09 2240.61L2960.39 2253.51L2950.69 2240.61Z" fill="none" stroke="#ff00ff" stroke-width="4" stroke-linejoin="miter"/><path d="M3057.03 2102.31L3066.73 2115.21L3057.03 2128.11L3047.33 2115.21Z" fill="none" stroke="#ff00ff" stroke-width="4" stroke-linejoin="miter"/><path d="M3153.66 1925.52L3163.36 1938.42L3153.66 1951.32L3143.96 1938.42Z" fill="none" stroke="#ff00ff" stroke-width="4" stroke-linejoin="miter"/><path d="M3250.3 1724.84L3260 1737.74L3250.3 1750.64L3240.6 1737.74Z" fill="none" stroke="#ff00ff" stroke-width="4" stroke-linejoin="miter"/>
<polyline points="2187.3,2327.03 2283.94,2308.17 2380.57,2261.65 2477.21,2178.66 2573.85,2035.07 2670.48,1856.35 2767.12,1689.54 2863.75,1579.73 2960.39,1533.04 3057.03,1516.7 3153.66,1513.09 3250.3,1511.75" fill="none" stroke="#00ffff" stroke-width="1.6" stroke-dasharray="16.6 9.6" stroke-linejoin="miter"/>
<path d="M2187.3 2314.13L2197 2327.03L2187.3 2339.93L2177.6 2327.03Z" fill="none" stroke="#00ffff" stroke-width="4" stroke-linejoin="miter"/><path d="M2283.94 2295.27L2293.64 2308.17L2283.94 2321.07L2274.24 2308.17Z" fill="none" stroke="#00ffff" stroke-width="4" stroke-linejoin="miter"/><path d="M2380.57 2248.75L2390.27 2261.65L2380.57 2274.55L2370.87 2261.65Z" fill="none" stroke="#00ffff" stroke-width="4" stroke-linejoin="miter"/><path d="M2477.21 2165.76L2486.91 2178.66L2477.21 2191.56L2467.51 2178.66Z" fill="none" stroke="#00ffff" stroke-width="4" stroke-linejoin="miter"/><path d="M2573.85 2022.17L2583.55 2035.07L2573.85 2047.97L2564.15 2035.07Z" fill="none" stroke="#00ffff" stroke-width="4" stroke-linejoin="miter"/><path d="M2670.48 1843.45L2680.18 1856.35L2670.48 1869.25L2660.78 1856.35Z" fill="none" stroke="#00ffff" stroke-width="4" stroke-linejoin="miter"/><path d="M2767.12 1676.64L2776.82 1689.54L2767.12 1702.44L2757.42 1689.54Z" fill="none" stroke="#00ffff" stroke-width="4" stroke-linejoin="miter"/><path d="M2863.75 1566.83L2873.45 1579.73L2863.75 1592.63L2854.05 1579.73Z" fill="none" stroke="#00ffff" stroke-width="4" stroke-linejoin="miter"/><path d="M2960.39 1520.14L2970.09 1533.04L2960.39 1545.94L2950.69 1533.04Z" fill="none" stroke="#00ffff" stroke-width="4" stroke-linejoin="miter"/><path d="M3057.03 1503.8L3066.73 1516.7L3057.03 1529.6L3047.33 1516.7Z" fill="none" stroke="#00ffff" stroke-width="4" stroke-linejoin="miter"/><path d="M3153.66 1500.19L3163.36 1513.09L3153.66 1525.99L3143.96 1513.09Z" fill="none" stroke="#00ffff" stroke-width="4" stroke-linejoin="miter"/><path d="M3250.3 1498.85L3260 1511.75L3250.3 1524.65L3240.6 1511.75Z" fill="none" stroke="#00ffff" stroke-width="4" stroke-linejoin="miter"/>
<polyline points="2187.3,2339.94 2283.94,2339.94 2380.57,2338.26 2477.21,2336.59 2573.85,2332.4 2670.48,2327.37 2767.12,2311.19 2863.75,2269.7 2960.39,2203.64 3057.03,2063.82 3153.66,1867 3250.3,1705.3" fill="none" stroke="#1a6fb3" stroke-width="1.6" stroke-dasharray="12.9 4.8 3.5 4.8" stroke-linejoin="miter"/>
<circle cx="2187.3" cy="2339.94" r="9.7" fill="none" stroke="#1a6fb3" stroke-width="1.9"/><circle cx="2283.94" cy="2339.94" r="9.7" fill="none" stroke="#1a6fb3" stroke-width="1.9"/><circle cx="2380.57" cy="2338.26" r="9.7" fill="none" stroke="#1a6fb3" stroke-width="1.9"/><circle cx="2477.21" cy="2336.59" r="9.7" fill="none" stroke="#1a6fb3" stroke-width="1.9"/><circle cx="2573.85" cy="2332.4" r="9.7" fill="none" stroke="#1a6fb3" stroke-width="1.9"/><circle cx="2670.48" cy="2327.37" r="9.7" fill="none" stroke="#1a6fb3" stroke-width="1.9"/><circle cx="2767.12" cy="2311.19" r="9.7" fill="none" stroke="#1a6fb3" stroke-width="1.9"/><circle cx="2863.75" cy="2269.7" r="9.7" fill="none" stroke="#1a6fb3" stroke-width="1.9"/><circle cx="2960.39" cy="2203.64" r="9.7" fill="none" stroke="#1a6fb3" stroke-width="1.9"/><circle cx="3057.03" cy="2063.82" r="9.7" fill="none" stroke="#1a6fb3" stroke-width="1.9"/><circle cx="3153.66" cy="1867" r="9.7" fill="none" stroke="#1a6fb3" stroke-width="1.9"/><circle cx="3250.3" cy="1705.3" r="9.7" fill="none" stroke="#1a6fb3" stroke-width="1.9"/>
<polyline points="2187.3,2339.61 2283.94,2340.19 2380.57,2338.52 2477.21,2337.09 2573.85,2332.48 2670.48,2327.37 2767.12,2313.28 2863.75,2279.84 2960.39,2195.59 3057.03,2042.87 3153.66,1838.08 3250.3,1650.82" fill="none" stroke="#ff00ff" stroke-width="1.6" stroke-dasharray="12.9 4.8 3.5 4.8" stroke-linejoin="miter"/>
<path d="M2177.6 2339.61H2197M2187.3 2329.91V2349.31M2180.44 2332.75L2194.16 2346.46M2180.44 2346.46L2194.16 2332.75" fill="none" stroke="#ff00ff" stroke-width="4.2"/><path d="M2274.24 2340.19H2293.64M2283.94 2330.49V2349.89M2277.08 2333.33L2290.8 2347.05M2277.08 2347.05L2290.8 2333.33" fill="none" stroke="#ff00ff" stroke-width="4.2"/><path d="M2370.87 2338.52H2390.27M2380.57 2328.82V2348.22M2373.71 2331.66L2387.43 2345.37M2373.71 2345.37L2387.43 2331.66" fill="none" stroke="#ff00ff" stroke-width="4.2"/><path d="M2467.51 2337.09H2486.91M2477.21 2327.39V2346.79M2470.35 2330.23L2484.07 2343.95M2470.35 2343.95L2484.07 2330.23" fill="none" stroke="#ff00ff" stroke-width="4.2"/><path d="M2564.15 2332.48H2583.55M2573.85 2322.78V2342.18M2566.99 2325.62L2580.7 2339.34M2566.99 2339.34L2580.7 2325.62" fill="none" stroke="#ff00ff" stroke-width="4.2"/><path d="M2660.78 2327.37H2680.18M2670.48 2317.67V2337.07M2663.62 2320.51L2677.34 2334.23M2663.62 2334.23L2677.34 2320.51" fill="none" stroke="#ff00ff" stroke-width="4.2"/><path d="M2757.42 2313.28H2776.82M2767.12 2303.58V2322.98M2760.26 2306.43L2773.98 2320.14M2760.26 2320.14L2773.98 2306.43" fill="none" stroke="#ff00ff" stroke-width="4.2"/><path d="M2854.05 2279.84H2873.45M2863.75 2270.14V2289.54M2856.9 2272.98L2870.61 2286.7M2856.9 2286.7L2870.61 2272.98" fill="none" stroke="#ff00ff" stroke-width="4.2"/><path d="M2950.69 2195.59H2970.09M2960.39 2185.89V2205.29M2953.53 2188.74L2967.25 2202.45M2953.53 2202.45L2967.25 2188.74" fill="none" stroke="#ff00ff" stroke-width="4.2"/><path d="M3047.33 2042.87H3066.73M3057.03 2033.17V2052.57M3050.17 2036.01L3063.89 2049.72M3050.17 2049.72L3063.89 2036.01" fill="none" stroke="#ff00ff" stroke-width="4.2"/><path d="M3143.96 1838.08H3163.36M3153.66 1828.38V1847.78M3146.8 1831.22L3160.52 1844.94M3146.8 1844.94L3160.52 1831.22" fill="none" stroke="#ff00ff" stroke-width="4.2"/><path d="M3240.6 1650.82H3260M3250.3 1641.12V1660.52M3243.44 1643.96L3257.16 1657.67M3243.44 1657.67L3257.16 1643.96" fill="none" stroke="#ff00ff" stroke-width="4.2"/>
</g>
<g>
<path d="M717 1140.5H814.4" stroke="#ff0000" stroke-width="4.6" fill="none"/>
<circle cx="765.7" cy="1140.5" r="9.7" fill="none" stroke="#ff0000" stroke-width="1.9"/>
<text x="837.9" y="1159.9" textLength="336.1" lengthAdjust="spacingAndGlyphs">MIMO-Rao</text>
<path d="M1409.2 1140.5H1506.9" stroke="#00ff00" stroke-width="4.6" fill="none"/>
<path d="M1448.35 1140.5H1467.75M1458.05 1130.8V1150.2M1451.19 1133.64L1464.91 1147.36M1451.19 1147.36L1464.91 1133.64" fill="none" stroke="#00ff00" stroke-width="4.2"/>
<text x="1530.9" y="1159.9" textLength="506.6" lengthAdjust="spacingAndGlyphs">MIMO-Rao-nscm</text>
<path d="M2060.1 1140.5H2158" stroke="#0000f2" stroke-width="4.6" fill="none"/>
<rect x="2101.05" y="1132.5" width="16" height="16" fill="none" stroke="#0000f2" stroke-width="4"/>
<text x="2178.1" y="1159.9" textLength="433.4" lengthAdjust="spacingAndGlyphs">MIMO-Raoi-m</text>
<path d="M2689.7 1144.2H2787.6" stroke="#000000" stroke-width="4.6" fill="none"/>
<path d="M2738.65 1131.6L2749.35 1150.2L2727.95 1150.2Z" fill="none" stroke="#000000" stroke-width="4.4" stroke-linejoin="miter"/>
<text x="2810.9" y="1159.9" textLength="377.5" lengthAdjust="spacingAndGlyphs">MIMO-Wald</text>
<path d="M717 1234H814.4" stroke="#ff00ff" stroke-width="1.6" stroke-dasharray="16.6 9.6" fill="none"/>
<path d="M765.7 1221.1L775.4 1234L765.7 1246.9L756 1234Z" fill="none" stroke="#ff00ff" stroke-width="4" stroke-linejoin="miter"/>
<text x="837.9" y="1254.5" textLength="549.1" lengthAdjust="spacingAndGlyphs">MIMO-Wald-nscm</text>
<path d="M1409.2 1234H1506.9" stroke="#00ffff" stroke-width="1.6" stroke-dasharray="16.6 9.6" fill="none"/>
<path d="M1458.05 1221.1L1467.75 1234L1458.05 1246.9L1448.35 1234Z" fill="none" stroke="#00ffff" stroke-width="4" stroke-linejoin="miter"/>
<text x="1530.9" y="1254.5" textLength="473.2" lengthAdjust="spacingAndGlyphs">MIMO-Waldi-m</text>
<path d="M2060.1 1234H2158" stroke="#1a6fb3" stroke-width="1.6" stroke-dasharray="12.9 4.8 3.5 4.8" fill="none"/>
<circle cx="2109.05" cy="1234" r="9.7" fill="none" stroke="#1a6fb3" stroke-width="1.9"/>
<text x="2183.9" y="1254.5" textLength="484.1" lengthAdjust="spacingAndGlyphs">MIMO-Rao-hom</text>
<path d="M2689.7 1234H2787.6" stroke="#ff00ff" stroke-width="1.6" stroke-dasharray="12.9 4.8 3.5 4.8" fill="none"/>
<path d="M2728.95 1234H2748.35M2738.65 1224.3V1243.7M2731.79 1227.14L2745.51 1240.86M2731.79 1240.86L2745.51 1227.14" fill="none" stroke="#ff00ff" stroke-width="4.2"/>
<text x="2810.9" y="1254.5" textLength="525.8" lengthAdjust="spacingAndGlyphs">MIMO-Wald-hom</text>
</g>
<g>
<path d="M647 2644.7H744.4" stroke="#ff0000" stroke-width="4.6" fill="none"/>
<circle cx="695.7" cy="2644.7" r="9.7" fill="none" stroke="#ff0000" stroke-width="1.9"/>
<text x="767.9" y="2664.1" textLength="336.1" lengthAdjust="spacingAndGlyphs">MIMO-Rao</text>
<path d="M1339.2 2644.7H1436.9" stroke="#00ff00" stroke-width="4.6" fill="none"/>
<path d="M1378.35 2644.7H1397.75M1388.05 2635V2654.4M1381.19 2637.84L1394.91 2651.56M1381.19 2651.56L1394.91 2637.84" fill="none" stroke="#00ff00" stroke-width="4.2"/>
<text x="1460.9" y="2664.1" textLength="506.6" lengthAdjust="spacingAndGlyphs">MIMO-Rao-nscm</text>
<path d="M1990.1 2644.7H2088" stroke="#0000f2" stroke-width="4.6" fill="none"/>
<rect x="2031.05" y="2636.7" width="16" height="16" fill="none" stroke="#0000f2" stroke-width="4"/>
<text x="2108.1" y="2664.1" textLength="433.4" lengthAdjust="spacingAndGlyphs">MIMO-Raoi-m</text>
<path d="M2619.7 2648.4H2717.6" stroke="#000000" stroke-width="4.6" fill="none"/>
<path d="M2668.65 2635.8L2679.35 2654.4L2657.95 2654.4Z" fill="none" stroke="#000000" stroke-width="4.4" stroke-linejoin="miter"/>
<text x="2740.9" y="2664.1" textLength="377.5" lengthAdjust="spacingAndGlyphs">MIMO-Wald</text>
<path d="M647 2738.2H744.4" stroke="#ff00ff" stroke-width="1.6" stroke-dasharray="16.6 9.6" fill="none"/>
<path d="M695.7 2725.3L705.4 2738.2L695.7 2751.1L686 2738.2Z" fill="none" stroke="#ff00ff" stroke-width="4" stroke-linejoin="miter"/>
<text x="767.9" y="2758.7" textLength="549.1" lengthAdjust="spacingAndGlyphs">MIMO-Wald-nscm</text>
<path d="M1339.2 2738.2H1436.9" stroke="#00ffff" stroke-width="1.6" stroke-dasharray="16.6 9.6" fill="none"/>
<path d="M1388.05 2725.3L1397.75 2738.2L1388.05 2751.1L1378.35 2738.2Z" fill="none" stroke="#00ffff" stroke-width="4" stroke-linejoin="miter"/>
<text x="1460.9" y="2758.7" textLength="473.2" lengthAdjust="spacingAndGlyphs">MIMO-Waldi-m</text>
<path d="M1990.1 2738.2H2088" stroke="#1a6fb3" stroke-width="1.6" stroke-dasharray="12.9 4.8 3.5 4.8" fill="none"/>
<circle cx="2039.05" cy="2738.2" r="9.7" fill="none" stroke="#1a6fb3" stroke-width="1.9"/>
<text x="2113.9" y="2758.7" textLength="484.1" lengthAdjust="spacingAndGlyphs">MIMO-Rao-hom</text>
<path d="M2619.7 2738.2H2717.6" stroke="#ff00ff" stroke-width="1.6" stroke-dasharray="12.9 4.8 3.5 4.8" fill="none"/>
<path d="M2658.95 2738.2H2678.35M2668.65 2728.5V2747.9M2661.79 2731.34L2675.51 2745.06M2661.79 2745.06L2675.51 2731.34" fill="none" stroke="#ff00ff" stroke-width="4.2"/>
<text x="2740.9" y="2758.7" textLength="525.8" lengthAdjust="spacingAndGlyphs">MIMO-Wald-hom</text>
</g>
<text x="1136.7" y="1365.6" textLength="80.7" lengthAdjust="spacingAndGlyphs">(a)</text>
<text x="1247.7" y="1365.6" textLength="48.2" lengthAdjust="spacingAndGlyphs" font-style="italic">K</text>
<text x="1293.9" y="1369.1" textLength="48.6" lengthAdjust="spacingAndGlyphs">=</text>
<text x="1344.8" y="1365.6" textLength="66" lengthAdjust="spacingAndGlyphs">24</text>
<text x="2580.7" y="1365.6" textLength="83.5" lengthAdjust="spacingAndGlyphs">(b)</text>
<text x="2695" y="1365.6" textLength="49" lengthAdjust="spacingAndGlyphs" font-style="italic">K</text>
<text x="2742" y="1369.1" textLength="48.7" lengthAdjust="spacingAndGlyphs">=</text>
<text x="2792.1" y="1365.6" textLength="66" lengthAdjust="spacingAndGlyphs">20</text>
<text x="1138.5" y="2869.7" textLength="77.1" lengthAdjust="spacingAndGlyphs">(c)</text>
<text x="1245.9" y="2869.7" textLength="48.1" lengthAdjust="spacingAndGlyphs" font-style="italic">K</text>
<text x="1292" y="2873.2" textLength="48.7" lengthAdjust="spacingAndGlyphs">=</text>
<text x="1345.7" y="2869.7" textLength="62.3" lengthAdjust="spacingAndGlyphs">16</text>
<text x="2580.7" y="2869.7" textLength="83.5" lengthAdjust="spacingAndGlyphs">(d)</text>
<text x="2695" y="2869.7" textLength="49" lengthAdjust="spacingAndGlyphs" font-style="italic">K</text>
<text x="2742" y="2873.2" textLength="48.7" lengthAdjust="spacingAndGlyphs">=</text>
<text x="2794.9" y="2869.7" textLength="62.3" lengthAdjust="spacingAndGlyphs">12</text>
</svg></body></html>
